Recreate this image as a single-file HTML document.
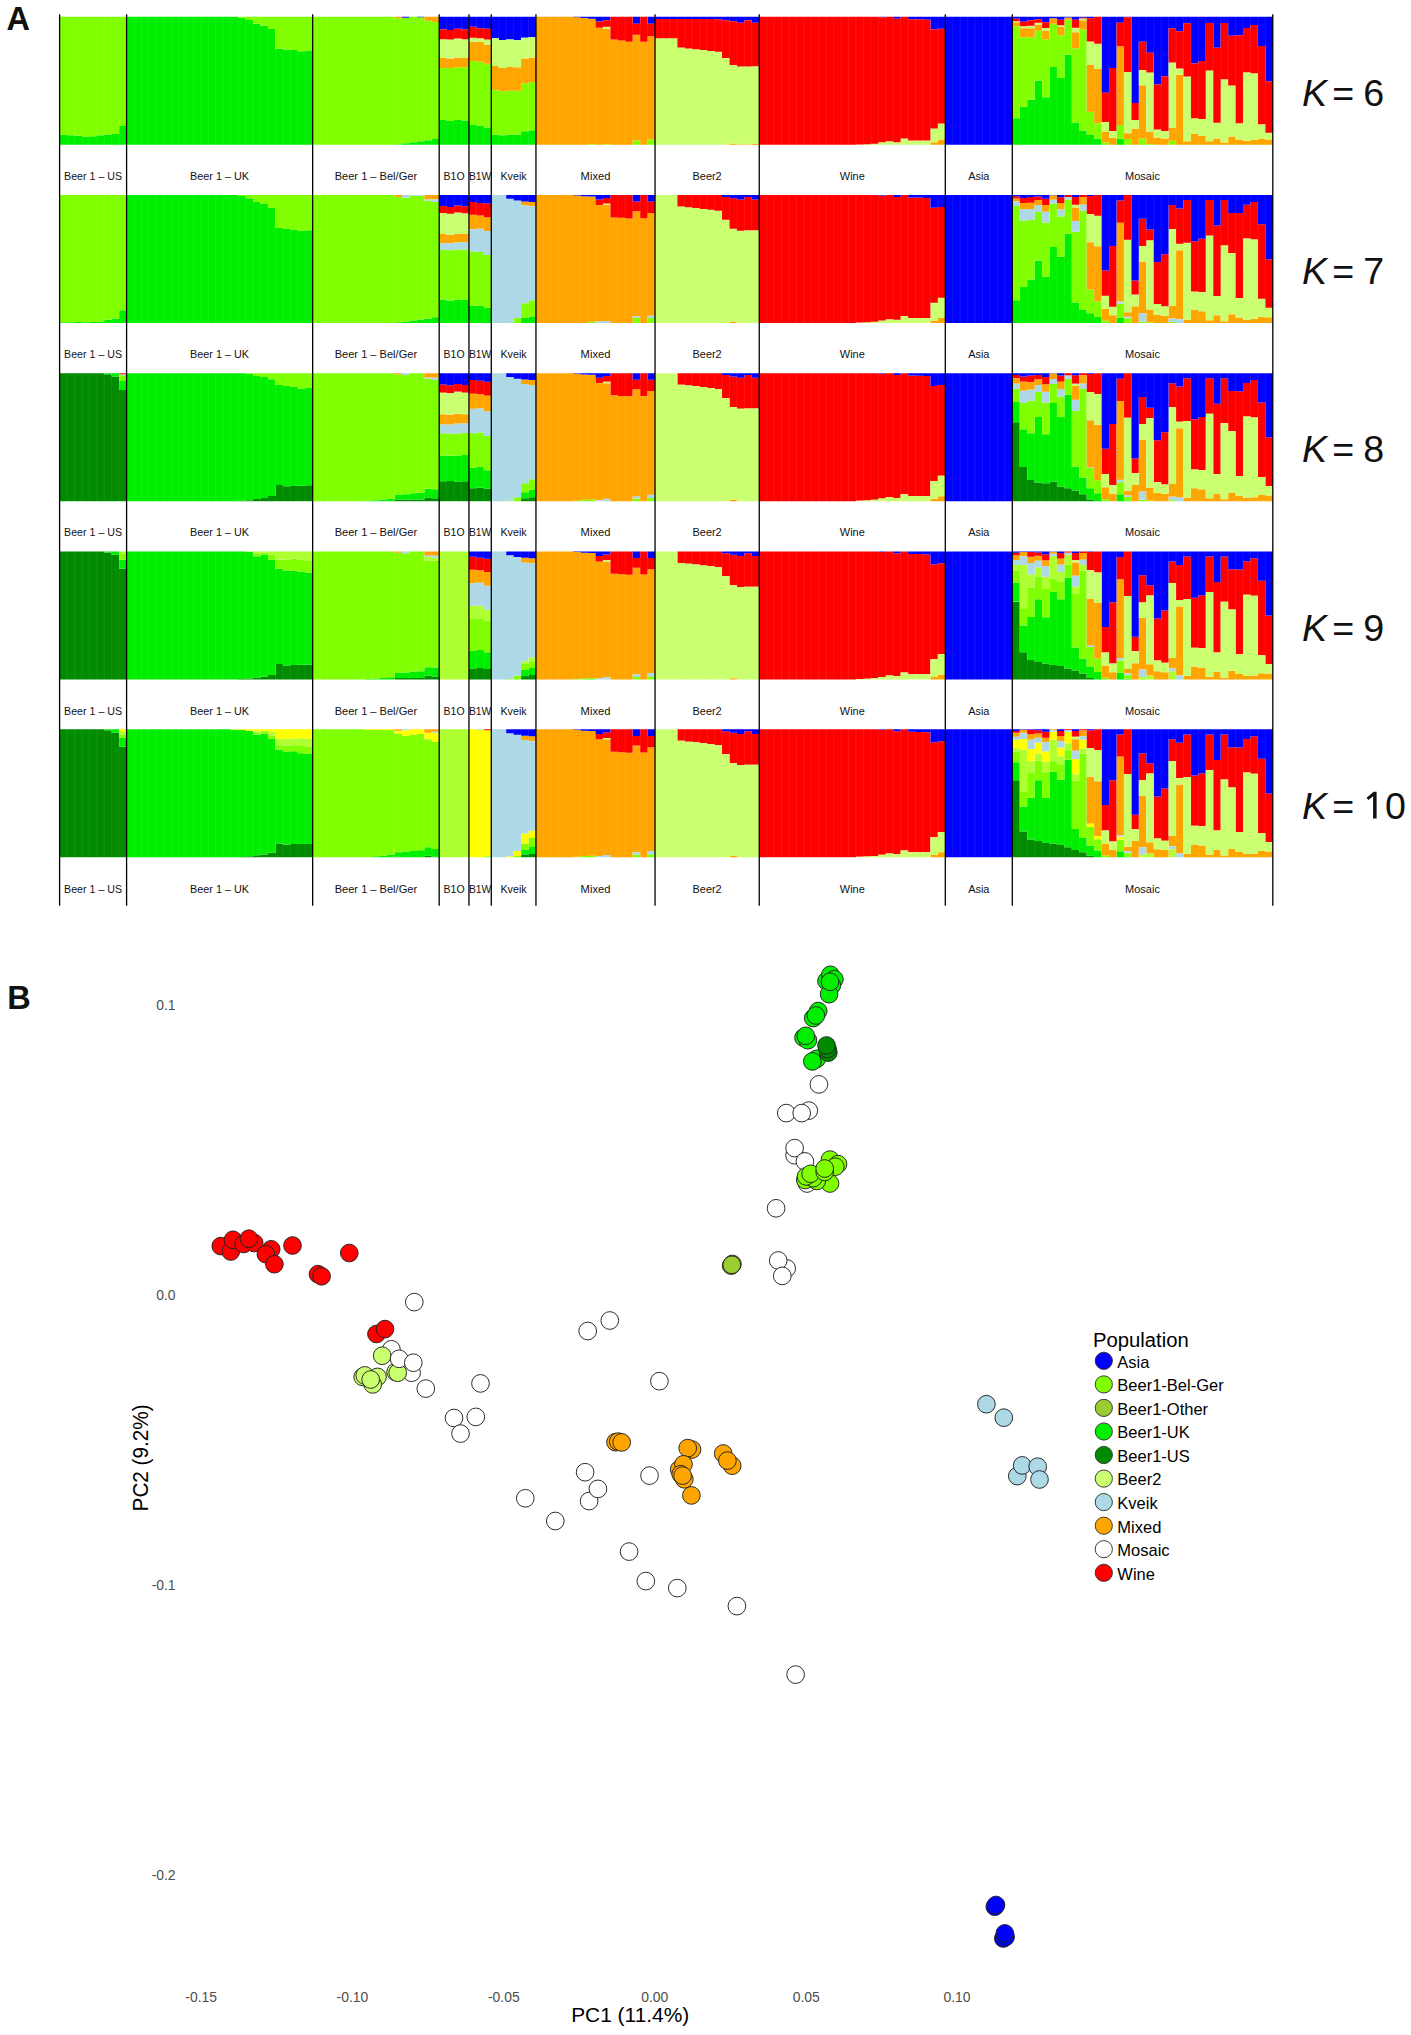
<!DOCTYPE html>
<html><head><meta charset="utf-8"><title>Figure</title>
<style>html,body{margin:0;padding:0;background:#fff}svg{display:block}</style>
</head><body>
<svg width="1411" height="2035" viewBox="0 0 1411 2035">
<rect width="1411" height="2035" fill="#fff"/>
<g id="bars">
<path fill="#00EE00" d="M59.60 134.82h7.44v9.98h-7.44zM67.04 135.20h7.44v9.60h-7.44zM74.49 135.84h7.44v8.96h-7.44zM81.93 136.48h7.44v8.32h-7.44zM89.37 136.22h7.44v8.58h-7.44zM96.81 135.33h7.44v9.47h-7.44zM104.26 134.56h7.44v10.24h-7.44zM111.70 133.92h7.44v10.88h-7.44zM119.14 125.98h7.44v18.82h-7.44zM126.59 16.80h7.44v128.00h-7.44zM134.03 16.80h7.44v128.00h-7.44zM141.47 16.80h7.44v128.00h-7.44zM148.92 16.80h7.44v128.00h-7.44zM156.36 16.80h7.44v128.00h-7.44zM163.80 16.80h7.44v128.00h-7.44zM171.24 16.80h7.44v128.00h-7.44zM178.69 16.80h7.44v128.00h-7.44zM186.13 16.80h7.44v128.00h-7.44zM193.57 16.80h7.44v128.00h-7.44zM201.02 16.80h7.44v128.00h-7.44zM208.46 16.80h7.44v128.00h-7.44zM215.90 16.80h7.44v128.00h-7.44zM223.34 16.80h7.44v128.00h-7.44zM230.79 16.80h7.44v128.00h-7.44zM238.23 17.82h7.44v126.98h-7.44zM245.67 20.00h7.44v124.80h-7.44zM253.12 23.71h7.44v121.09h-7.44zM260.56 25.76h7.44v119.04h-7.44zM268.00 29.09h7.44v115.71h-7.44zM275.45 48.80h7.44v96.00h-7.44zM282.89 49.57h7.44v95.23h-7.44zM290.33 50.08h7.44v94.72h-7.44zM297.77 51.36h7.44v93.44h-7.44zM305.22 51.10h7.44v93.70h-7.44zM394.53 144.16h7.44v0.64h-7.44zM401.98 143.26h7.44v1.54h-7.44zM409.42 142.24h7.44v2.56h-7.44zM416.86 141.22h7.44v3.58h-7.44zM424.30 140.32h7.44v4.48h-7.44zM431.75 139.04h7.44v5.76h-7.44zM439.19 119.97h7.44v24.83h-7.44zM446.63 120.99h7.44v23.81h-7.44zM454.08 119.97h7.44v24.83h-7.44zM461.52 120.48h7.44v24.32h-7.44zM468.96 124.96h7.44v19.84h-7.44zM476.40 125.60h7.44v19.20h-7.44zM483.85 127.39h7.44v17.41h-7.44zM491.29 134.82h7.44v9.98h-7.44zM498.73 135.33h7.44v9.47h-7.44zM506.18 134.82h7.44v9.98h-7.44zM513.62 134.82h7.44v9.98h-7.44zM521.06 131.36h7.44v13.44h-7.44zM528.51 130.34h7.44v14.46h-7.44zM1012.30 118.18h7.44v26.62h-7.44zM1019.74 106.78h7.44v38.02h-7.44zM1027.18 99.74h7.44v45.06h-7.44zM1034.63 80.80h7.44v64.00h-7.44zM1042.07 97.31h7.44v47.49h-7.44zM1049.51 66.98h7.44v77.82h-7.44zM1056.95 77.98h7.44v66.82h-7.44zM1064.40 54.82h7.44v89.98h-7.44zM1071.84 122.40h7.44v22.40h-7.44zM1079.28 130.59h7.44v14.21h-7.44zM1086.73 135.07h7.44v9.73h-7.44zM1094.17 138.78h7.44v6.02h-7.44zM1116.50 138.78h7.44v6.02h-7.44z"/>
<path fill="#7FFF00" d="M59.60 16.80h7.44v118.02h-7.44zM67.04 16.80h7.44v118.40h-7.44zM74.49 16.80h7.44v119.04h-7.44zM81.93 16.80h7.44v119.68h-7.44zM89.37 16.80h7.44v119.42h-7.44zM96.81 16.80h7.44v118.53h-7.44zM104.26 16.80h7.44v117.76h-7.44zM111.70 16.80h7.44v117.12h-7.44zM119.14 16.80h7.44v109.18h-7.44zM238.23 16.80h7.44v1.02h-7.44zM245.67 16.80h7.44v3.20h-7.44zM253.12 16.80h7.44v6.91h-7.44zM260.56 16.80h7.44v8.96h-7.44zM268.00 16.80h7.44v12.29h-7.44zM275.45 16.80h7.44v32.00h-7.44zM282.89 16.80h7.44v32.77h-7.44zM290.33 16.80h7.44v33.28h-7.44zM297.77 16.80h7.44v34.56h-7.44zM305.22 16.80h7.44v34.30h-7.44zM312.66 16.80h7.44v128.00h-7.44zM320.10 16.80h7.44v128.00h-7.44zM327.55 16.80h7.44v128.00h-7.44zM334.99 16.80h7.44v128.00h-7.44zM342.43 16.80h7.44v128.00h-7.44zM349.87 16.80h7.44v128.00h-7.44zM357.32 16.80h7.44v128.00h-7.44zM364.76 16.80h7.44v128.00h-7.44zM372.20 16.80h7.44v128.00h-7.44zM379.65 16.80h7.44v128.00h-7.44zM387.09 16.80h7.44v128.00h-7.44zM394.53 18.34h7.44v125.82h-7.44zM401.98 17.82h7.44v125.44h-7.44zM409.42 16.80h7.44v125.44h-7.44zM416.86 17.18h7.44v124.03h-7.44zM424.30 20.64h7.44v119.68h-7.44zM431.75 21.92h7.44v117.12h-7.44zM439.19 68.00h7.44v51.97h-7.44zM446.63 68.00h7.44v52.99h-7.44zM454.08 67.36h7.44v52.61h-7.44zM461.52 67.36h7.44v53.12h-7.44zM468.96 61.09h7.44v63.87h-7.44zM476.40 61.86h7.44v63.74h-7.44zM483.85 63.78h7.44v63.62h-7.44zM491.29 89.76h7.44v45.06h-7.44zM498.73 91.17h7.44v44.16h-7.44zM506.18 90.66h7.44v44.16h-7.44zM513.62 90.78h7.44v44.03h-7.44zM521.06 83.36h7.44v48.00h-7.44zM528.51 82.08h7.44v48.26h-7.44zM588.05 144.16h7.44v0.64h-7.44zM602.93 144.16h7.44v0.64h-7.44zM632.71 140.45h7.44v4.35h-7.44zM647.59 139.42h7.44v5.38h-7.44zM1012.30 26.27h7.44v91.90h-7.44zM1019.74 37.15h7.44v69.63h-7.44zM1027.18 37.15h7.44v62.59h-7.44zM1034.63 30.75h7.44v50.05h-7.44zM1042.07 39.20h7.44v58.11h-7.44zM1049.51 23.71h7.44v43.26h-7.44zM1056.95 35.23h7.44v42.75h-7.44zM1064.40 19.74h7.44v35.07h-7.44zM1071.84 48.16h7.44v74.24h-7.44zM1079.28 29.60h7.44v100.99h-7.44zM1086.73 111.71h7.44v23.36h-7.44zM1094.17 123.17h7.44v15.62h-7.44zM1101.61 142.50h7.44v2.30h-7.44zM1116.50 124.96h7.44v13.82h-7.44zM1123.94 139.04h7.44v5.76h-7.44zM1138.83 138.53h7.44v6.27h-7.44zM1146.27 144.03h7.44v0.77h-7.44zM1168.60 140.83h7.44v3.97h-7.44z"/>
<path fill="#FFA500" d="M394.53 16.80h7.44v1.54h-7.44zM424.30 16.80h7.44v3.84h-7.44zM431.75 16.80h7.44v5.12h-7.44zM439.19 58.02h7.44v9.98h-7.44zM446.63 58.53h7.44v9.47h-7.44zM454.08 57.50h7.44v9.86h-7.44zM461.52 58.02h7.44v9.34h-7.44zM468.96 41.63h7.44v19.46h-7.44zM476.40 42.02h7.44v19.84h-7.44zM483.85 44.58h7.44v19.20h-7.44zM491.29 65.95h7.44v23.81h-7.44zM498.73 68.00h7.44v23.17h-7.44zM506.18 66.98h7.44v23.68h-7.44zM513.62 67.36h7.44v23.42h-7.44zM521.06 58.53h7.44v24.83h-7.44zM528.51 57.50h7.44v24.58h-7.44zM535.95 16.80h7.44v128.00h-7.44zM543.39 16.80h7.44v128.00h-7.44zM550.83 16.80h7.44v128.00h-7.44zM558.28 16.80h7.44v128.00h-7.44zM565.72 16.80h7.44v128.00h-7.44zM573.16 17.31h7.44v127.49h-7.44zM580.61 18.08h7.44v126.72h-7.44zM588.05 18.72h7.44v125.44h-7.44zM595.49 27.68h7.44v117.12h-7.44zM602.93 28.70h7.44v115.46h-7.44zM610.38 39.58h7.44v105.22h-7.44zM617.82 40.61h7.44v104.19h-7.44zM625.26 41.63h7.44v103.17h-7.44zM632.71 34.72h7.44v105.73h-7.44zM640.15 41.63h7.44v103.17h-7.44zM647.59 36.26h7.44v103.17h-7.44zM722.02 144.42h7.44v0.38h-7.44zM729.47 143.52h7.44v1.28h-7.44zM736.91 144.16h7.44v0.64h-7.44zM744.35 144.16h7.44v0.64h-7.44zM751.79 144.03h7.44v0.77h-7.44zM930.42 142.37h7.44v2.43h-7.44zM937.87 139.81h7.44v4.99h-7.44zM1012.30 22.18h7.44v4.10h-7.44zM1019.74 28.19h7.44v8.96h-7.44zM1027.18 28.19h7.44v8.96h-7.44zM1034.63 24.74h7.44v6.02h-7.44zM1042.07 30.75h7.44v8.45h-7.44zM1049.51 18.34h7.44v5.38h-7.44zM1056.95 26.78h7.44v8.45h-7.44zM1064.40 17.57h7.44v2.18h-7.44zM1071.84 32.16h7.44v16.00h-7.44zM1079.28 20.26h7.44v9.34h-7.44zM1086.73 65.06h7.44v46.66h-7.44zM1094.17 69.02h7.44v54.14h-7.44zM1101.61 131.62h7.44v10.88h-7.44zM1109.06 138.02h7.44v6.78h-7.44zM1116.50 46.37h7.44v78.59h-7.44zM1123.94 133.28h7.44v5.76h-7.44zM1131.38 129.06h7.44v15.74h-7.44zM1138.83 85.15h7.44v53.38h-7.44zM1146.27 131.62h7.44v12.42h-7.44zM1153.71 137.50h7.44v7.30h-7.44zM1161.16 138.53h7.44v6.27h-7.44zM1168.60 127.90h7.44v12.93h-7.44zM1176.04 74.66h7.44v70.14h-7.44zM1183.48 141.22h7.44v3.58h-7.44zM1190.93 133.92h7.44v10.88h-7.44zM1198.37 135.84h7.44v8.96h-7.44zM1205.81 141.22h7.44v3.58h-7.44zM1213.26 138.53h7.44v6.27h-7.44zM1220.70 142.50h7.44v2.30h-7.44zM1228.14 136.61h7.44v8.19h-7.44zM1235.59 139.55h7.44v5.25h-7.44zM1243.03 140.83h7.44v3.97h-7.44zM1250.47 140.06h7.44v4.74h-7.44zM1257.91 139.04h7.44v5.76h-7.44zM1265.36 139.55h7.44v5.25h-7.44z"/>
<path fill="#0000FF" d="M401.98 16.80h7.44v1.02h-7.44zM416.86 16.80h7.44v0.38h-7.44zM439.19 16.80h7.44v12.54h-7.44zM446.63 16.80h7.44v13.31h-7.44zM454.08 16.80h7.44v11.90h-7.44zM461.52 16.80h7.44v12.80h-7.44zM468.96 16.80h7.44v9.98h-7.44zM476.40 16.80h7.44v11.52h-7.44zM483.85 16.80h7.44v11.90h-7.44zM491.29 16.80h7.44v21.38h-7.44zM498.73 16.80h7.44v23.17h-7.44zM506.18 16.80h7.44v22.78h-7.44zM513.62 16.80h7.44v23.42h-7.44zM521.06 16.80h7.44v20.86h-7.44zM528.51 16.80h7.44v20.48h-7.44zM573.16 16.80h7.44v0.51h-7.44zM580.61 16.80h7.44v1.28h-7.44zM588.05 16.80h7.44v1.92h-7.44zM595.49 16.80h7.44v4.61h-7.44zM602.93 16.80h7.44v3.33h-7.44zM632.71 16.80h7.44v6.91h-7.44zM647.59 16.80h7.44v6.91h-7.44zM655.04 16.80h7.44v2.18h-7.44zM662.48 16.80h7.44v2.18h-7.44zM669.92 16.80h7.44v2.18h-7.44zM677.36 16.80h7.44v2.18h-7.44zM684.81 16.80h7.44v2.18h-7.44zM692.25 16.80h7.44v2.18h-7.44zM699.69 16.80h7.44v2.18h-7.44zM707.14 16.80h7.44v2.18h-7.44zM714.58 16.80h7.44v2.56h-7.44zM722.02 16.80h7.44v3.33h-7.44zM729.47 16.80h7.44v4.35h-7.44zM736.91 16.80h7.44v6.02h-7.44zM744.35 16.80h7.44v3.33h-7.44zM751.79 16.80h7.44v6.02h-7.44zM878.32 16.80h7.44v0.51h-7.44zM893.21 16.80h7.44v1.92h-7.44zM908.10 16.80h7.44v2.43h-7.44zM915.54 16.80h7.44v2.56h-7.44zM922.98 16.80h7.44v2.94h-7.44zM930.42 16.80h7.44v12.80h-7.44zM937.87 16.80h7.44v11.90h-7.44zM945.31 16.80h7.44v128.00h-7.44zM952.75 16.80h7.44v128.00h-7.44zM960.20 16.80h7.44v128.00h-7.44zM967.64 16.80h7.44v128.00h-7.44zM975.08 16.80h7.44v128.00h-7.44zM982.53 16.80h7.44v128.00h-7.44zM989.97 16.80h7.44v128.00h-7.44zM997.41 16.80h7.44v128.00h-7.44zM1004.85 16.80h7.44v128.00h-7.44zM1012.30 16.80h7.44v1.92h-7.44zM1019.74 16.80h7.44v4.99h-7.44zM1027.18 16.80h7.44v3.46h-7.44zM1034.63 16.80h7.44v2.56h-7.44zM1042.07 16.80h7.44v5.50h-7.44zM1049.51 16.80h7.44v1.54h-7.44zM1056.95 16.80h7.44v2.94h-7.44zM1064.40 16.80h7.44v0.77h-7.44zM1071.84 16.80h7.44v2.94h-7.44zM1079.28 16.80h7.44v0.90h-7.44zM1086.73 16.80h7.44v1.54h-7.44zM1101.61 16.80h7.44v76.03h-7.44zM1109.06 16.80h7.44v51.20h-7.44zM1116.50 16.80h7.44v6.02h-7.44zM1123.94 16.80h7.44v0.51h-7.44zM1131.38 16.80h7.44v86.27h-7.44zM1138.83 16.80h7.44v24.83h-7.44zM1146.27 16.80h7.44v35.84h-7.44zM1153.71 16.80h7.44v67.58h-7.44zM1161.16 16.80h7.44v59.39h-7.44zM1168.60 16.80h7.44v11.39h-7.44zM1176.04 16.80h7.44v14.46h-7.44zM1183.48 16.80h7.44v6.40h-7.44zM1190.93 16.80h7.44v46.72h-7.44zM1198.37 16.80h7.44v44.29h-7.44zM1205.81 16.80h7.44v6.14h-7.44zM1213.26 16.80h7.44v30.98h-7.44zM1220.70 16.80h7.44v6.14h-7.44zM1228.14 16.80h7.44v19.07h-7.44zM1235.59 16.80h7.44v18.43h-7.44zM1243.03 16.80h7.44v11.14h-7.44zM1250.47 16.80h7.44v8.19h-7.44zM1257.91 16.80h7.44v29.31h-7.44zM1265.36 16.80h7.44v64.38h-7.44z"/>
<path fill="#CAFF70" d="M439.19 39.20h7.44v18.82h-7.44zM446.63 39.58h7.44v18.94h-7.44zM454.08 38.56h7.44v18.94h-7.44zM461.52 39.20h7.44v18.82h-7.44zM468.96 37.66h7.44v3.97h-7.44zM476.40 38.18h7.44v3.84h-7.44zM483.85 39.58h7.44v4.99h-7.44zM491.29 38.18h7.44v27.78h-7.44zM498.73 39.97h7.44v28.03h-7.44zM506.18 39.58h7.44v27.39h-7.44zM513.62 40.22h7.44v27.14h-7.44zM521.06 37.66h7.44v20.86h-7.44zM528.51 37.28h7.44v20.22h-7.44zM602.93 26.78h7.44v1.92h-7.44zM655.04 38.18h7.44v106.62h-7.44zM662.48 38.18h7.44v106.62h-7.44zM669.92 38.18h7.44v106.62h-7.44zM677.36 47.52h7.44v97.28h-7.44zM684.81 48.54h7.44v96.26h-7.44zM692.25 49.18h7.44v95.62h-7.44zM699.69 50.08h7.44v94.72h-7.44zM707.14 50.98h7.44v93.82h-7.44zM714.58 51.87h7.44v92.93h-7.44zM722.02 58.02h7.44v86.40h-7.44zM729.47 65.06h7.44v78.46h-7.44zM736.91 66.46h7.44v77.70h-7.44zM744.35 66.46h7.44v77.70h-7.44zM751.79 66.21h7.44v77.82h-7.44zM856.00 144.42h7.44v0.38h-7.44zM863.44 144.16h7.44v0.64h-7.44zM870.88 143.78h7.44v1.02h-7.44zM878.32 142.37h7.44v2.43h-7.44zM885.77 141.22h7.44v3.58h-7.44zM893.21 142.37h7.44v2.43h-7.44zM900.65 138.40h7.44v6.40h-7.44zM908.10 140.45h7.44v4.35h-7.44zM915.54 140.45h7.44v4.35h-7.44zM922.98 140.45h7.44v4.35h-7.44zM930.42 128.54h7.44v13.82h-7.44zM937.87 123.42h7.44v16.38h-7.44zM1012.30 21.28h7.44v0.90h-7.44zM1019.74 26.27h7.44v1.92h-7.44zM1027.18 25.76h7.44v2.43h-7.44zM1034.63 22.82h7.44v1.92h-7.44zM1042.07 27.94h7.44v2.82h-7.44zM1056.95 25.25h7.44v1.54h-7.44zM1071.84 27.68h7.44v4.48h-7.44zM1079.28 18.59h7.44v1.66h-7.44zM1086.73 41.50h7.44v23.55h-7.44zM1094.17 43.68h7.44v25.34h-7.44zM1101.61 121.89h7.44v9.73h-7.44zM1109.06 131.10h7.44v6.91h-7.44zM1123.94 71.97h7.44v61.31h-7.44zM1131.38 119.97h7.44v9.09h-7.44zM1138.83 69.92h7.44v15.23h-7.44zM1146.27 72.61h7.44v59.01h-7.44zM1153.71 129.57h7.44v7.94h-7.44zM1161.16 131.10h7.44v7.42h-7.44zM1168.60 62.50h7.44v65.41h-7.44zM1176.04 68.51h7.44v6.14h-7.44zM1183.48 76.58h7.44v64.64h-7.44zM1190.93 118.18h7.44v15.74h-7.44zM1198.37 118.94h7.44v16.90h-7.44zM1205.81 70.43h7.44v70.78h-7.44zM1213.26 122.66h7.44v15.87h-7.44zM1220.70 79.14h7.44v63.36h-7.44zM1228.14 85.54h7.44v51.07h-7.44zM1235.59 123.17h7.44v16.38h-7.44zM1243.03 72.22h7.44v68.61h-7.44zM1250.47 73.25h7.44v66.82h-7.44zM1257.91 124.19h7.44v14.85h-7.44zM1265.36 132.64h7.44v6.91h-7.44z"/>
<path fill="#FF0000" d="M439.19 29.34h7.44v9.86h-7.44zM446.63 30.11h7.44v9.47h-7.44zM454.08 28.70h7.44v9.86h-7.44zM461.52 29.60h7.44v9.60h-7.44zM468.96 26.78h7.44v10.88h-7.44zM476.40 28.32h7.44v9.86h-7.44zM483.85 28.70h7.44v10.88h-7.44zM595.49 21.41h7.44v6.27h-7.44zM602.93 20.13h7.44v6.66h-7.44zM610.38 16.80h7.44v22.78h-7.44zM617.82 16.80h7.44v23.81h-7.44zM625.26 16.80h7.44v24.83h-7.44zM632.71 23.71h7.44v11.01h-7.44zM640.15 16.80h7.44v24.83h-7.44zM647.59 23.71h7.44v12.54h-7.44zM655.04 18.98h7.44v19.20h-7.44zM662.48 18.98h7.44v19.20h-7.44zM669.92 18.98h7.44v19.20h-7.44zM677.36 18.98h7.44v28.54h-7.44zM684.81 18.98h7.44v29.57h-7.44zM692.25 18.98h7.44v30.21h-7.44zM699.69 18.98h7.44v31.10h-7.44zM707.14 18.98h7.44v32.00h-7.44zM714.58 19.36h7.44v32.51h-7.44zM722.02 20.13h7.44v37.89h-7.44zM729.47 21.15h7.44v43.90h-7.44zM736.91 22.82h7.44v43.65h-7.44zM744.35 20.13h7.44v46.34h-7.44zM751.79 22.82h7.44v43.39h-7.44zM759.24 16.80h7.44v128.00h-7.44zM766.68 16.80h7.44v128.00h-7.44zM774.12 16.80h7.44v128.00h-7.44zM781.57 16.80h7.44v128.00h-7.44zM789.01 16.80h7.44v128.00h-7.44zM796.45 16.80h7.44v128.00h-7.44zM803.89 16.80h7.44v128.00h-7.44zM811.34 16.80h7.44v128.00h-7.44zM818.78 16.80h7.44v128.00h-7.44zM826.22 16.80h7.44v128.00h-7.44zM833.67 16.80h7.44v128.00h-7.44zM841.11 16.80h7.44v128.00h-7.44zM848.55 16.80h7.44v128.00h-7.44zM856.00 16.80h7.44v127.62h-7.44zM863.44 16.80h7.44v127.36h-7.44zM870.88 16.80h7.44v126.98h-7.44zM878.32 17.31h7.44v125.06h-7.44zM885.77 16.80h7.44v124.42h-7.44zM893.21 18.72h7.44v123.65h-7.44zM900.65 16.80h7.44v121.60h-7.44zM908.10 19.23h7.44v121.22h-7.44zM915.54 19.36h7.44v121.09h-7.44zM922.98 19.74h7.44v120.70h-7.44zM930.42 29.60h7.44v98.94h-7.44zM937.87 28.70h7.44v94.72h-7.44zM1012.30 18.72h7.44v2.56h-7.44zM1019.74 21.79h7.44v4.48h-7.44zM1027.18 20.26h7.44v5.50h-7.44zM1034.63 19.36h7.44v3.46h-7.44zM1042.07 22.30h7.44v5.63h-7.44zM1056.95 19.74h7.44v5.50h-7.44zM1071.84 19.74h7.44v7.94h-7.44zM1079.28 17.70h7.44v0.90h-7.44zM1086.73 18.34h7.44v23.17h-7.44zM1094.17 16.80h7.44v26.88h-7.44zM1101.61 92.83h7.44v29.06h-7.44zM1109.06 68.00h7.44v63.10h-7.44zM1116.50 22.82h7.44v23.55h-7.44zM1123.94 17.31h7.44v54.66h-7.44zM1131.38 103.07h7.44v16.90h-7.44zM1138.83 41.63h7.44v28.29h-7.44zM1146.27 52.64h7.44v19.97h-7.44zM1153.71 84.38h7.44v45.18h-7.44zM1161.16 76.19h7.44v54.91h-7.44zM1168.60 28.19h7.44v34.30h-7.44zM1176.04 31.26h7.44v37.25h-7.44zM1183.48 23.20h7.44v53.38h-7.44zM1190.93 63.52h7.44v54.66h-7.44zM1198.37 61.09h7.44v57.86h-7.44zM1205.81 22.94h7.44v47.49h-7.44zM1213.26 47.78h7.44v74.88h-7.44zM1220.70 22.94h7.44v56.19h-7.44zM1228.14 35.87h7.44v49.66h-7.44zM1235.59 35.23h7.44v87.94h-7.44zM1243.03 27.94h7.44v44.29h-7.44zM1250.47 24.99h7.44v48.26h-7.44zM1257.91 46.11h7.44v78.08h-7.44zM1265.36 81.18h7.44v51.46h-7.44z"/>
<path fill="#00EE00" d="M59.60 322.36h7.44v0.64h-7.44zM67.04 322.23h7.44v0.77h-7.44zM74.49 321.98h7.44v1.02h-7.44zM81.93 322.23h7.44v0.77h-7.44zM89.37 321.98h7.44v1.02h-7.44zM96.81 321.46h7.44v1.54h-7.44zM104.26 319.80h7.44v3.20h-7.44zM111.70 318.52h7.44v4.48h-7.44zM119.14 310.20h7.44v12.80h-7.44zM126.59 195.00h7.44v128.00h-7.44zM134.03 195.00h7.44v128.00h-7.44zM141.47 195.00h7.44v128.00h-7.44zM148.92 195.00h7.44v128.00h-7.44zM156.36 195.00h7.44v128.00h-7.44zM163.80 195.00h7.44v128.00h-7.44zM171.24 195.00h7.44v128.00h-7.44zM178.69 195.00h7.44v128.00h-7.44zM186.13 195.00h7.44v128.00h-7.44zM193.57 195.00h7.44v128.00h-7.44zM201.02 195.00h7.44v128.00h-7.44zM208.46 195.00h7.44v128.00h-7.44zM215.90 195.00h7.44v128.00h-7.44zM223.34 195.00h7.44v128.00h-7.44zM230.79 195.00h7.44v128.00h-7.44zM238.23 196.02h7.44v126.98h-7.44zM245.67 198.20h7.44v124.80h-7.44zM253.12 201.91h7.44v121.09h-7.44zM260.56 203.96h7.44v119.04h-7.44zM268.00 207.80h7.44v115.20h-7.44zM275.45 227.90h7.44v95.10h-7.44zM282.89 228.92h7.44v94.08h-7.44zM290.33 229.56h7.44v93.44h-7.44zM297.77 230.84h7.44v92.16h-7.44zM305.22 230.20h7.44v92.80h-7.44zM394.53 322.36h7.44v0.64h-7.44zM401.98 321.46h7.44v1.54h-7.44zM409.42 320.44h7.44v2.56h-7.44zM416.86 319.42h7.44v3.58h-7.44zM424.30 318.52h7.44v4.48h-7.44zM431.75 317.24h7.44v5.76h-7.44zM439.19 299.58h7.44v23.42h-7.44zM446.63 300.60h7.44v22.40h-7.44zM454.08 299.58h7.44v23.42h-7.44zM461.52 299.83h7.44v23.17h-7.44zM468.96 305.72h7.44v17.28h-7.44zM476.40 305.59h7.44v17.41h-7.44zM483.85 307.64h7.44v15.36h-7.44zM521.06 318.01h7.44v4.99h-7.44zM528.51 316.47h7.44v6.53h-7.44zM1012.30 300.34h7.44v22.66h-7.44zM1019.74 286.90h7.44v36.10h-7.44zM1027.18 279.48h7.44v43.52h-7.44zM1034.63 260.41h7.44v62.59h-7.44zM1042.07 276.54h7.44v46.46h-7.44zM1049.51 246.97h7.44v76.03h-7.44zM1056.95 256.82h7.44v66.18h-7.44zM1064.40 233.78h7.44v89.22h-7.44zM1071.84 302.39h7.44v20.61h-7.44zM1079.28 310.07h7.44v12.93h-7.44zM1086.73 313.27h7.44v9.73h-7.44zM1094.17 316.98h7.44v6.02h-7.44zM1116.50 317.75h7.44v5.25h-7.44z"/>
<path fill="#7FFF00" d="M59.60 195.00h7.44v127.36h-7.44zM67.04 195.00h7.44v127.23h-7.44zM74.49 195.00h7.44v126.98h-7.44zM81.93 195.00h7.44v127.23h-7.44zM89.37 195.00h7.44v126.98h-7.44zM96.81 195.00h7.44v126.46h-7.44zM104.26 195.00h7.44v124.80h-7.44zM111.70 195.00h7.44v123.52h-7.44zM119.14 195.00h7.44v115.20h-7.44zM238.23 195.00h7.44v1.02h-7.44zM245.67 195.00h7.44v3.20h-7.44zM253.12 195.00h7.44v6.91h-7.44zM260.56 195.00h7.44v8.96h-7.44zM268.00 195.00h7.44v12.80h-7.44zM275.45 195.00h7.44v32.90h-7.44zM282.89 195.00h7.44v33.92h-7.44zM290.33 195.00h7.44v34.56h-7.44zM297.77 195.00h7.44v35.84h-7.44zM305.22 195.00h7.44v35.20h-7.44zM312.66 195.00h7.44v128.00h-7.44zM320.10 195.00h7.44v128.00h-7.44zM327.55 195.00h7.44v128.00h-7.44zM334.99 195.00h7.44v128.00h-7.44zM342.43 195.00h7.44v128.00h-7.44zM349.87 195.00h7.44v128.00h-7.44zM357.32 195.00h7.44v128.00h-7.44zM364.76 195.00h7.44v128.00h-7.44zM372.20 195.00h7.44v128.00h-7.44zM379.65 195.00h7.44v128.00h-7.44zM387.09 195.00h7.44v128.00h-7.44zM394.53 196.92h7.44v125.44h-7.44zM401.98 197.56h7.44v123.90h-7.44zM409.42 195.64h7.44v124.80h-7.44zM416.86 195.64h7.44v123.78h-7.44zM424.30 200.76h7.44v117.76h-7.44zM431.75 202.04h7.44v115.20h-7.44zM439.19 250.04h7.44v49.54h-7.44zM446.63 250.17h7.44v50.43h-7.44zM454.08 249.53h7.44v50.05h-7.44zM461.52 249.53h7.44v50.30h-7.44zM468.96 251.58h7.44v54.14h-7.44zM476.40 251.96h7.44v53.63h-7.44zM483.85 254.90h7.44v52.74h-7.44zM513.62 318.01h7.44v4.99h-7.44zM521.06 303.16h7.44v14.85h-7.44zM528.51 300.22h7.44v16.26h-7.44zM588.05 321.72h7.44v1.28h-7.44zM632.71 318.01h7.44v4.99h-7.44zM647.59 318.01h7.44v4.99h-7.44zM1012.30 205.88h7.44v94.46h-7.44zM1019.74 220.60h7.44v66.30h-7.44zM1027.18 220.09h7.44v59.39h-7.44zM1034.63 211.90h7.44v48.51h-7.44zM1042.07 222.39h7.44v54.14h-7.44zM1049.51 203.70h7.44v43.26h-7.44zM1056.95 216.38h7.44v40.45h-7.44zM1064.40 199.48h7.44v34.30h-7.44zM1071.84 231.74h7.44v70.66h-7.44zM1079.28 210.74h7.44v99.33h-7.44zM1086.73 289.46h7.44v23.81h-7.44zM1094.17 301.37h7.44v15.62h-7.44zM1101.61 320.70h7.44v2.30h-7.44zM1116.50 303.80h7.44v13.95h-7.44zM1123.94 318.26h7.44v4.74h-7.44zM1138.83 321.72h7.44v1.28h-7.44zM1146.27 322.36h7.44v0.64h-7.44zM1168.60 321.98h7.44v1.02h-7.44z"/>
<path fill="#FFA500" d="M394.53 195.00h7.44v1.92h-7.44zM424.30 195.00h7.44v4.48h-7.44zM431.75 195.00h7.44v4.48h-7.44zM439.19 234.04h7.44v9.22h-7.44zM446.63 234.68h7.44v8.58h-7.44zM454.08 233.66h7.44v8.96h-7.44zM461.52 234.04h7.44v8.19h-7.44zM468.96 214.84h7.44v14.34h-7.44zM476.40 215.48h7.44v13.31h-7.44zM483.85 217.27h7.44v13.82h-7.44zM521.06 201.53h7.44v3.97h-7.44zM528.51 201.91h7.44v4.35h-7.44zM535.95 195.00h7.44v128.00h-7.44zM543.39 195.00h7.44v128.00h-7.44zM550.83 195.00h7.44v128.00h-7.44zM558.28 195.00h7.44v128.00h-7.44zM565.72 195.00h7.44v128.00h-7.44zM573.16 195.51h7.44v127.49h-7.44zM580.61 196.28h7.44v126.72h-7.44zM588.05 196.54h7.44v125.18h-7.44zM595.49 204.98h7.44v116.48h-7.44zM602.93 204.98h7.44v116.10h-7.44zM610.38 217.40h7.44v105.60h-7.44zM617.82 217.78h7.44v105.22h-7.44zM625.26 218.42h7.44v104.58h-7.44zM632.71 211.26h7.44v105.34h-7.44zM640.15 218.17h7.44v104.83h-7.44zM647.59 212.92h7.44v102.78h-7.44zM729.47 321.72h7.44v1.28h-7.44zM930.42 320.57h7.44v2.43h-7.44zM937.87 318.01h7.44v4.99h-7.44zM1012.30 198.46h7.44v2.94h-7.44zM1019.74 202.94h7.44v6.53h-7.44zM1027.18 202.81h7.44v6.27h-7.44zM1034.63 200.12h7.44v4.99h-7.44zM1042.07 205.11h7.44v6.53h-7.44zM1049.51 195.26h7.44v4.48h-7.44zM1056.95 202.94h7.44v6.53h-7.44zM1071.84 207.42h7.44v13.57h-7.44zM1079.28 197.05h7.44v7.68h-7.44zM1086.73 242.23h7.44v47.23h-7.44zM1094.17 246.20h7.44v55.17h-7.44zM1101.61 308.79h7.44v11.90h-7.44zM1109.06 315.32h7.44v7.68h-7.44zM1116.50 222.78h7.44v78.72h-7.44zM1123.94 312.25h7.44v4.48h-7.44zM1131.38 306.36h7.44v16.64h-7.44zM1138.83 261.43h7.44v51.58h-7.44zM1146.27 309.43h7.44v12.93h-7.44zM1153.71 314.81h7.44v8.19h-7.44zM1161.16 315.70h7.44v7.30h-7.44zM1168.60 305.85h7.44v12.54h-7.44zM1176.04 250.17h7.44v68.99h-7.44zM1183.48 319.42h7.44v3.58h-7.44zM1190.93 310.07h7.44v12.93h-7.44zM1198.37 311.22h7.44v11.78h-7.44zM1205.81 320.18h7.44v2.82h-7.44zM1213.26 315.32h7.44v7.68h-7.44zM1220.70 321.21h7.44v1.79h-7.44zM1228.14 314.30h7.44v8.70h-7.44zM1235.59 317.50h7.44v5.50h-7.44zM1243.03 319.67h7.44v3.33h-7.44zM1250.47 319.03h7.44v3.97h-7.44zM1257.91 316.73h7.44v6.27h-7.44zM1265.36 317.24h7.44v5.76h-7.44z"/>
<path fill="#ADD8E6" d="M401.98 195.00h7.44v2.56h-7.44zM409.42 195.00h7.44v0.64h-7.44zM416.86 195.00h7.44v0.64h-7.44zM424.30 199.48h7.44v1.28h-7.44zM431.75 199.48h7.44v2.56h-7.44zM439.19 243.26h7.44v6.78h-7.44zM446.63 243.26h7.44v6.91h-7.44zM454.08 242.62h7.44v6.91h-7.44zM461.52 242.23h7.44v7.30h-7.44zM468.96 229.18h7.44v22.40h-7.44zM476.40 228.79h7.44v23.17h-7.44zM483.85 231.10h7.44v23.81h-7.44zM491.29 195.00h7.44v128.00h-7.44zM498.73 195.00h7.44v128.00h-7.44zM506.18 198.84h7.44v124.16h-7.44zM513.62 200.50h7.44v117.50h-7.44zM521.06 205.50h7.44v97.66h-7.44zM528.51 206.26h7.44v93.95h-7.44zM595.49 321.46h7.44v1.54h-7.44zM602.93 321.08h7.44v1.92h-7.44zM632.71 316.60h7.44v1.41h-7.44zM647.59 315.70h7.44v2.30h-7.44zM1012.30 201.40h7.44v4.48h-7.44zM1019.74 209.46h7.44v11.14h-7.44zM1027.18 209.08h7.44v11.01h-7.44zM1034.63 205.11h7.44v6.78h-7.44zM1042.07 211.64h7.44v10.75h-7.44zM1049.51 199.74h7.44v3.97h-7.44zM1056.95 209.46h7.44v6.91h-7.44zM1064.40 197.05h7.44v2.43h-7.44zM1071.84 220.98h7.44v10.75h-7.44zM1079.28 204.73h7.44v6.02h-7.44zM1116.50 301.50h7.44v2.30h-7.44zM1123.94 316.73h7.44v1.54h-7.44zM1138.83 313.02h7.44v8.70h-7.44zM1168.60 318.39h7.44v3.58h-7.44zM1176.04 319.16h7.44v3.84h-7.44z"/>
<path fill="#CAFF70" d="M439.19 212.92h7.44v21.12h-7.44zM446.63 213.82h7.44v20.86h-7.44zM454.08 212.41h7.44v21.25h-7.44zM461.52 213.30h7.44v20.74h-7.44zM602.93 203.58h7.44v1.41h-7.44zM655.04 195.00h7.44v128.00h-7.44zM662.48 195.00h7.44v128.00h-7.44zM669.92 195.00h7.44v128.00h-7.44zM677.36 206.52h7.44v116.48h-7.44zM684.81 207.29h7.44v115.71h-7.44zM692.25 207.93h7.44v115.07h-7.44zM699.69 208.95h7.44v114.05h-7.44zM707.14 209.85h7.44v113.15h-7.44zM714.58 210.87h7.44v112.13h-7.44zM722.02 219.83h7.44v103.17h-7.44zM729.47 228.79h7.44v92.93h-7.44zM736.91 230.71h7.44v92.29h-7.44zM744.35 230.33h7.44v92.67h-7.44zM751.79 230.33h7.44v92.67h-7.44zM856.00 322.49h7.44v0.51h-7.44zM863.44 322.23h7.44v0.77h-7.44zM870.88 321.72h7.44v1.28h-7.44zM878.32 320.44h7.44v2.56h-7.44zM885.77 319.16h7.44v3.84h-7.44zM893.21 319.80h7.44v3.20h-7.44zM900.65 316.09h7.44v6.91h-7.44zM908.10 317.88h7.44v5.12h-7.44zM915.54 317.88h7.44v5.12h-7.44zM922.98 317.88h7.44v5.12h-7.44zM930.42 302.78h7.44v17.79h-7.44zM937.87 297.66h7.44v20.35h-7.44zM1071.84 204.73h7.44v2.69h-7.44zM1086.73 214.07h7.44v28.16h-7.44zM1094.17 215.86h7.44v30.34h-7.44zM1101.61 295.86h7.44v12.93h-7.44zM1109.06 306.74h7.44v8.58h-7.44zM1123.94 239.67h7.44v72.58h-7.44zM1131.38 294.58h7.44v11.78h-7.44zM1138.83 245.94h7.44v15.49h-7.44zM1146.27 240.18h7.44v69.25h-7.44zM1153.71 304.06h7.44v10.75h-7.44zM1161.16 306.36h7.44v9.34h-7.44zM1168.60 229.05h7.44v76.80h-7.44zM1176.04 243.64h7.44v6.53h-7.44zM1183.48 242.74h7.44v76.67h-7.44zM1190.93 291.38h7.44v18.69h-7.44zM1198.37 291.90h7.44v19.33h-7.44zM1205.81 235.58h7.44v84.61h-7.44zM1213.26 296.12h7.44v19.20h-7.44zM1220.70 245.18h7.44v76.03h-7.44zM1228.14 253.11h7.44v61.18h-7.44zM1235.59 297.91h7.44v19.58h-7.44zM1243.03 238.26h7.44v81.41h-7.44zM1250.47 239.29h7.44v79.74h-7.44zM1257.91 298.81h7.44v17.92h-7.44zM1265.36 307.77h7.44v9.47h-7.44z"/>
<path fill="#FF0000" d="M439.19 205.88h7.44v7.04h-7.44zM446.63 206.90h7.44v6.91h-7.44zM454.08 205.50h7.44v6.91h-7.44zM461.52 206.26h7.44v7.04h-7.44zM468.96 201.91h7.44v12.93h-7.44zM476.40 202.94h7.44v12.54h-7.44zM483.85 203.58h7.44v13.70h-7.44zM595.49 199.61h7.44v5.38h-7.44zM602.93 197.94h7.44v5.63h-7.44zM610.38 195.00h7.44v22.40h-7.44zM617.82 195.00h7.44v22.78h-7.44zM625.26 195.00h7.44v23.42h-7.44zM632.71 201.53h7.44v9.73h-7.44zM640.15 195.00h7.44v23.17h-7.44zM647.59 201.53h7.44v11.39h-7.44zM677.36 195.00h7.44v11.52h-7.44zM684.81 195.00h7.44v12.29h-7.44zM692.25 195.00h7.44v12.93h-7.44zM699.69 195.00h7.44v13.95h-7.44zM707.14 195.00h7.44v14.85h-7.44zM714.58 195.00h7.44v15.87h-7.44zM722.02 196.92h7.44v22.91h-7.44zM729.47 198.33h7.44v30.46h-7.44zM736.91 199.61h7.44v31.10h-7.44zM744.35 196.92h7.44v33.41h-7.44zM751.79 199.61h7.44v30.72h-7.44zM759.24 195.00h7.44v128.00h-7.44zM766.68 195.00h7.44v128.00h-7.44zM774.12 195.00h7.44v128.00h-7.44zM781.57 195.00h7.44v128.00h-7.44zM789.01 195.00h7.44v128.00h-7.44zM796.45 195.00h7.44v128.00h-7.44zM803.89 195.00h7.44v128.00h-7.44zM811.34 195.00h7.44v128.00h-7.44zM818.78 195.00h7.44v128.00h-7.44zM826.22 195.00h7.44v128.00h-7.44zM833.67 195.00h7.44v128.00h-7.44zM841.11 195.00h7.44v128.00h-7.44zM848.55 195.00h7.44v128.00h-7.44zM856.00 195.00h7.44v127.49h-7.44zM863.44 195.00h7.44v127.23h-7.44zM870.88 195.00h7.44v126.72h-7.44zM878.32 195.51h7.44v124.93h-7.44zM885.77 195.00h7.44v124.16h-7.44zM893.21 196.92h7.44v122.88h-7.44zM900.65 195.00h7.44v121.09h-7.44zM908.10 197.43h7.44v120.45h-7.44zM915.54 197.56h7.44v120.32h-7.44zM922.98 197.94h7.44v119.94h-7.44zM930.42 207.80h7.44v94.98h-7.44zM937.87 206.90h7.44v90.75h-7.44zM1012.30 196.28h7.44v2.18h-7.44zM1019.74 197.94h7.44v4.99h-7.44zM1027.18 197.05h7.44v5.76h-7.44zM1034.63 196.54h7.44v3.58h-7.44zM1042.07 198.84h7.44v6.27h-7.44zM1056.95 197.18h7.44v5.76h-7.44zM1064.40 195.00h7.44v2.05h-7.44zM1071.84 197.05h7.44v7.68h-7.44zM1079.28 195.00h7.44v2.05h-7.44zM1086.73 196.02h7.44v18.05h-7.44zM1094.17 195.00h7.44v20.86h-7.44zM1101.61 270.52h7.44v25.34h-7.44zM1109.06 245.94h7.44v60.80h-7.44zM1116.50 200.50h7.44v22.27h-7.44zM1123.94 195.00h7.44v44.67h-7.44zM1131.38 280.50h7.44v14.08h-7.44zM1138.83 218.81h7.44v27.14h-7.44zM1146.27 229.56h7.44v10.62h-7.44zM1153.71 262.07h7.44v41.98h-7.44zM1161.16 254.14h7.44v52.22h-7.44zM1168.60 204.98h7.44v24.06h-7.44zM1176.04 208.44h7.44v35.20h-7.44zM1183.48 200.12h7.44v42.62h-7.44zM1190.93 241.21h7.44v50.18h-7.44zM1198.37 238.78h7.44v53.12h-7.44zM1205.81 200.12h7.44v35.46h-7.44zM1213.26 225.59h7.44v70.53h-7.44zM1220.70 200.12h7.44v45.06h-7.44zM1228.14 212.92h7.44v40.19h-7.44zM1235.59 213.05h7.44v84.86h-7.44zM1243.03 204.73h7.44v33.54h-7.44zM1250.47 201.91h7.44v37.38h-7.44zM1257.91 224.31h7.44v74.50h-7.44zM1265.36 259.13h7.44v48.64h-7.44z"/>
<path fill="#0000FF" d="M439.19 195.00h7.44v10.88h-7.44zM446.63 195.00h7.44v11.90h-7.44zM454.08 195.00h7.44v10.50h-7.44zM461.52 195.00h7.44v11.26h-7.44zM468.96 195.00h7.44v6.91h-7.44zM476.40 195.00h7.44v7.94h-7.44zM483.85 195.00h7.44v8.58h-7.44zM506.18 195.00h7.44v3.84h-7.44zM513.62 195.00h7.44v5.50h-7.44zM521.06 195.00h7.44v6.53h-7.44zM528.51 195.00h7.44v6.91h-7.44zM573.16 195.00h7.44v0.51h-7.44zM580.61 195.00h7.44v1.28h-7.44zM588.05 195.00h7.44v1.54h-7.44zM595.49 195.00h7.44v4.61h-7.44zM602.93 195.00h7.44v2.94h-7.44zM632.71 195.00h7.44v6.53h-7.44zM647.59 195.00h7.44v6.53h-7.44zM722.02 195.00h7.44v1.92h-7.44zM729.47 195.00h7.44v3.33h-7.44zM736.91 195.00h7.44v4.61h-7.44zM744.35 195.00h7.44v1.92h-7.44zM751.79 195.00h7.44v4.61h-7.44zM878.32 195.00h7.44v0.51h-7.44zM893.21 195.00h7.44v1.92h-7.44zM908.10 195.00h7.44v2.43h-7.44zM915.54 195.00h7.44v2.56h-7.44zM922.98 195.00h7.44v2.94h-7.44zM930.42 195.00h7.44v12.80h-7.44zM937.87 195.00h7.44v11.90h-7.44zM945.31 195.00h7.44v128.00h-7.44zM952.75 195.00h7.44v128.00h-7.44zM960.20 195.00h7.44v128.00h-7.44zM967.64 195.00h7.44v128.00h-7.44zM975.08 195.00h7.44v128.00h-7.44zM982.53 195.00h7.44v128.00h-7.44zM989.97 195.00h7.44v128.00h-7.44zM997.41 195.00h7.44v128.00h-7.44zM1004.85 195.00h7.44v128.00h-7.44zM1012.30 195.00h7.44v1.28h-7.44zM1019.74 195.00h7.44v2.94h-7.44zM1027.18 195.00h7.44v2.05h-7.44zM1034.63 195.00h7.44v1.54h-7.44zM1042.07 195.00h7.44v3.84h-7.44zM1049.51 195.00h7.44v0.26h-7.44zM1056.95 195.00h7.44v2.18h-7.44zM1071.84 195.00h7.44v2.05h-7.44zM1086.73 195.00h7.44v1.02h-7.44zM1101.61 195.00h7.44v75.52h-7.44zM1109.06 195.00h7.44v50.94h-7.44zM1116.50 195.00h7.44v5.50h-7.44zM1131.38 195.00h7.44v85.50h-7.44zM1138.83 195.00h7.44v23.81h-7.44zM1146.27 195.00h7.44v34.56h-7.44zM1153.71 195.00h7.44v67.07h-7.44zM1161.16 195.00h7.44v59.14h-7.44zM1168.60 195.00h7.44v9.98h-7.44zM1176.04 195.00h7.44v13.44h-7.44zM1183.48 195.00h7.44v5.12h-7.44zM1190.93 195.00h7.44v46.21h-7.44zM1198.37 195.00h7.44v43.78h-7.44zM1205.81 195.00h7.44v5.12h-7.44zM1213.26 195.00h7.44v30.59h-7.44zM1220.70 195.00h7.44v5.12h-7.44zM1228.14 195.00h7.44v17.92h-7.44zM1235.59 195.00h7.44v18.05h-7.44zM1243.03 195.00h7.44v9.73h-7.44zM1250.47 195.00h7.44v6.91h-7.44zM1257.91 195.00h7.44v29.31h-7.44zM1265.36 195.00h7.44v64.13h-7.44z"/>
<path fill="#008B00" d="M59.60 373.15h7.44v128.00h-7.44zM67.04 373.15h7.44v128.00h-7.44zM74.49 373.15h7.44v128.00h-7.44zM81.93 373.15h7.44v128.00h-7.44zM89.37 373.15h7.44v128.00h-7.44zM96.81 373.15h7.44v128.00h-7.44zM104.26 374.17h7.44v126.98h-7.44zM111.70 376.48h7.44v124.67h-7.44zM119.14 390.05h7.44v111.10h-7.44zM238.23 500.77h7.44v0.38h-7.44zM245.67 500.13h7.44v1.02h-7.44zM253.12 499.10h7.44v2.05h-7.44zM260.56 497.95h7.44v3.20h-7.44zM268.00 496.03h7.44v5.12h-7.44zM275.45 484.89h7.44v16.26h-7.44zM282.89 486.30h7.44v14.85h-7.44zM290.33 485.92h7.44v15.23h-7.44zM297.77 485.66h7.44v15.49h-7.44zM305.22 485.28h7.44v15.87h-7.44zM394.53 499.61h7.44v1.54h-7.44zM401.98 499.61h7.44v1.54h-7.44zM409.42 499.61h7.44v1.54h-7.44zM416.86 499.61h7.44v1.54h-7.44zM424.30 497.57h7.44v3.58h-7.44zM431.75 498.21h7.44v2.94h-7.44zM439.19 481.31h7.44v19.84h-7.44zM446.63 480.93h7.44v20.22h-7.44zM454.08 481.69h7.44v19.46h-7.44zM461.52 481.31h7.44v19.84h-7.44zM468.96 488.22h7.44v12.93h-7.44zM476.40 487.84h7.44v13.31h-7.44zM483.85 488.86h7.44v12.29h-7.44zM521.06 498.21h7.44v2.94h-7.44zM528.51 497.18h7.44v3.97h-7.44zM1012.30 422.17h7.44v78.98h-7.44zM1019.74 466.97h7.44v34.18h-7.44zM1027.18 479.90h7.44v21.25h-7.44zM1034.63 482.46h7.44v18.69h-7.44zM1042.07 483.23h7.44v17.92h-7.44zM1049.51 481.44h7.44v19.71h-7.44zM1056.95 486.43h7.44v14.72h-7.44zM1064.40 488.22h7.44v12.93h-7.44zM1071.84 490.40h7.44v10.75h-7.44zM1079.28 494.37h7.44v6.78h-7.44zM1086.73 499.61h7.44v1.54h-7.44z"/>
<path fill="#00EE00" d="M104.26 373.15h7.44v1.02h-7.44zM111.70 373.15h7.44v3.33h-7.44zM119.14 381.09h7.44v8.96h-7.44zM126.59 373.15h7.44v128.00h-7.44zM134.03 373.15h7.44v128.00h-7.44zM141.47 373.15h7.44v128.00h-7.44zM148.92 373.15h7.44v128.00h-7.44zM156.36 373.15h7.44v128.00h-7.44zM163.80 373.15h7.44v128.00h-7.44zM171.24 373.15h7.44v128.00h-7.44zM178.69 373.15h7.44v128.00h-7.44zM186.13 373.15h7.44v128.00h-7.44zM193.57 373.15h7.44v128.00h-7.44zM201.02 373.15h7.44v128.00h-7.44zM208.46 373.15h7.44v128.00h-7.44zM215.90 373.15h7.44v128.00h-7.44zM223.34 373.15h7.44v128.00h-7.44zM230.79 373.15h7.44v128.00h-7.44zM238.23 373.15h7.44v127.62h-7.44zM245.67 373.79h7.44v126.34h-7.44zM253.12 376.09h7.44v123.01h-7.44zM260.56 377.12h7.44v120.83h-7.44zM268.00 379.17h7.44v116.86h-7.44zM275.45 385.05h7.44v99.84h-7.44zM282.89 385.95h7.44v100.35h-7.44zM290.33 387.10h7.44v98.82h-7.44zM297.77 388.38h7.44v97.28h-7.44zM305.22 388.00h7.44v97.28h-7.44zM364.76 500.64h7.44v0.51h-7.44zM372.20 500.13h7.44v1.02h-7.44zM379.65 499.61h7.44v1.54h-7.44zM387.09 498.85h7.44v2.30h-7.44zM394.53 494.75h7.44v4.86h-7.44zM401.98 494.24h7.44v5.38h-7.44zM409.42 493.21h7.44v6.40h-7.44zM416.86 492.83h7.44v6.78h-7.44zM424.30 488.86h7.44v8.70h-7.44zM431.75 489.25h7.44v8.96h-7.44zM439.19 455.45h7.44v25.86h-7.44zM446.63 455.84h7.44v25.09h-7.44zM454.08 455.45h7.44v26.24h-7.44zM461.52 455.07h7.44v26.24h-7.44zM468.96 467.74h7.44v20.48h-7.44zM476.40 466.97h7.44v20.86h-7.44zM483.85 470.30h7.44v18.56h-7.44zM521.06 492.19h7.44v6.02h-7.44zM528.51 489.63h7.44v7.55h-7.44zM1012.30 402.08h7.44v20.10h-7.44zM1019.74 429.21h7.44v37.76h-7.44zM1027.18 433.18h7.44v46.72h-7.44zM1034.63 416.93h7.44v65.54h-7.44zM1042.07 434.21h7.44v49.02h-7.44zM1049.51 402.97h7.44v78.46h-7.44zM1056.95 416.93h7.44v69.50h-7.44zM1064.40 394.65h7.44v93.57h-7.44zM1071.84 466.46h7.44v23.94h-7.44zM1079.28 477.47h7.44v16.90h-7.44zM1086.73 488.22h7.44v11.39h-7.44zM1094.17 493.34h7.44v7.81h-7.44zM1116.50 494.37h7.44v6.78h-7.44zM1123.94 500.38h7.44v0.77h-7.44z"/>
<path fill="#7FFF00" d="M119.14 375.20h7.44v5.89h-7.44zM245.67 373.15h7.44v0.64h-7.44zM253.12 373.15h7.44v2.94h-7.44zM260.56 373.15h7.44v3.97h-7.44zM268.00 373.15h7.44v6.02h-7.44zM275.45 373.15h7.44v11.90h-7.44zM282.89 373.15h7.44v12.80h-7.44zM290.33 373.15h7.44v13.95h-7.44zM297.77 373.15h7.44v15.23h-7.44zM305.22 373.15h7.44v14.85h-7.44zM312.66 373.15h7.44v128.00h-7.44zM320.10 373.15h7.44v128.00h-7.44zM327.55 373.15h7.44v128.00h-7.44zM334.99 373.15h7.44v128.00h-7.44zM342.43 373.15h7.44v128.00h-7.44zM349.87 373.15h7.44v128.00h-7.44zM357.32 373.15h7.44v128.00h-7.44zM364.76 373.15h7.44v127.49h-7.44zM372.20 373.15h7.44v126.98h-7.44zM379.65 373.15h7.44v126.46h-7.44zM387.09 373.15h7.44v125.70h-7.44zM394.53 374.43h7.44v120.32h-7.44zM401.98 375.07h7.44v119.17h-7.44zM409.42 373.15h7.44v120.06h-7.44zM416.86 373.15h7.44v119.68h-7.44zM424.30 378.53h7.44v110.34h-7.44zM431.75 380.06h7.44v109.18h-7.44zM439.19 433.18h7.44v22.27h-7.44zM446.63 433.57h7.44v22.27h-7.44zM454.08 433.57h7.44v21.89h-7.44zM461.52 432.93h7.44v22.14h-7.44zM468.96 433.18h7.44v34.56h-7.44zM476.40 432.54h7.44v34.43h-7.44zM483.85 436.00h7.44v34.30h-7.44zM506.18 500.77h7.44v0.38h-7.44zM513.62 497.31h7.44v3.84h-7.44zM521.06 483.23h7.44v8.96h-7.44zM528.51 479.26h7.44v10.37h-7.44zM573.16 500.64h7.44v0.51h-7.44zM580.61 499.87h7.44v1.28h-7.44zM588.05 499.61h7.44v1.54h-7.44zM632.71 498.59h7.44v2.56h-7.44zM647.59 497.95h7.44v3.20h-7.44zM1012.30 389.02h7.44v13.06h-7.44zM1019.74 402.97h7.44v26.24h-7.44zM1027.18 400.80h7.44v32.38h-7.44zM1034.63 392.09h7.44v24.83h-7.44zM1042.07 402.85h7.44v31.36h-7.44zM1049.51 383.90h7.44v19.07h-7.44zM1056.95 396.83h7.44v20.10h-7.44zM1064.40 378.91h7.44v15.74h-7.44zM1071.84 410.91h7.44v55.55h-7.44zM1079.28 389.02h7.44v88.45h-7.44zM1086.73 468.00h7.44v20.22h-7.44zM1094.17 480.29h7.44v13.06h-7.44zM1101.61 499.36h7.44v1.79h-7.44zM1116.50 482.21h7.44v12.16h-7.44zM1123.94 496.93h7.44v3.46h-7.44zM1138.83 499.87h7.44v1.28h-7.44zM1146.27 500.51h7.44v0.64h-7.44zM1168.60 500.13h7.44v1.02h-7.44z"/>
<path fill="#ADD8E6" d="M119.14 374.17h7.44v1.02h-7.44zM401.98 373.15h7.44v1.92h-7.44zM424.30 377.50h7.44v1.02h-7.44zM431.75 377.50h7.44v2.56h-7.44zM439.19 424.22h7.44v8.96h-7.44zM446.63 424.61h7.44v8.96h-7.44zM454.08 423.58h7.44v9.98h-7.44zM461.52 423.20h7.44v9.73h-7.44zM468.96 408.73h7.44v24.45h-7.44zM476.40 408.35h7.44v24.19h-7.44zM483.85 411.29h7.44v24.70h-7.44zM491.29 373.15h7.44v128.00h-7.44zM498.73 373.15h7.44v128.00h-7.44zM506.18 376.99h7.44v123.78h-7.44zM513.62 378.65h7.44v118.66h-7.44zM521.06 383.90h7.44v99.33h-7.44zM528.51 384.93h7.44v94.34h-7.44zM595.49 500.13h7.44v1.02h-7.44zM602.93 498.85h7.44v2.30h-7.44zM632.71 496.16h7.44v2.43h-7.44zM647.59 494.75h7.44v3.20h-7.44zM1012.30 383.39h7.44v5.63h-7.44zM1019.74 390.43h7.44v12.54h-7.44zM1027.18 389.41h7.44v11.39h-7.44zM1034.63 384.93h7.44v7.17h-7.44zM1042.07 391.71h7.44v11.14h-7.44zM1049.51 378.91h7.44v4.99h-7.44zM1056.95 389.02h7.44v7.81h-7.44zM1064.40 375.20h7.44v3.71h-7.44zM1071.84 399.77h7.44v11.14h-7.44zM1079.28 383.39h7.44v5.63h-7.44zM1086.73 467.36h7.44v0.64h-7.44zM1116.50 479.65h7.44v2.56h-7.44zM1123.94 495.13h7.44v1.79h-7.44zM1138.83 491.17h7.44v8.70h-7.44zM1168.60 496.54h7.44v3.58h-7.44zM1176.04 497.31h7.44v3.84h-7.44z"/>
<path fill="#FF0000" d="M119.14 373.15h7.44v1.02h-7.44zM439.19 384.54h7.44v8.32h-7.44zM446.63 385.31h7.44v8.06h-7.44zM454.08 383.90h7.44v7.94h-7.44zM461.52 384.93h7.44v7.94h-7.44zM468.96 379.93h7.44v13.82h-7.44zM476.40 380.83h7.44v13.57h-7.44zM483.85 381.85h7.44v13.95h-7.44zM595.49 377.76h7.44v5.38h-7.44zM602.93 376.09h7.44v5.63h-7.44zM610.38 373.15h7.44v22.40h-7.44zM617.82 373.15h7.44v22.78h-7.44zM625.26 373.15h7.44v23.42h-7.44zM632.71 379.68h7.44v9.73h-7.44zM640.15 373.15h7.44v23.17h-7.44zM647.59 379.68h7.44v11.39h-7.44zM677.36 373.15h7.44v11.52h-7.44zM684.81 373.15h7.44v12.29h-7.44zM692.25 373.15h7.44v12.93h-7.44zM699.69 373.15h7.44v13.95h-7.44zM707.14 373.15h7.44v14.85h-7.44zM714.58 373.15h7.44v15.87h-7.44zM722.02 375.07h7.44v22.91h-7.44zM729.47 376.48h7.44v30.46h-7.44zM736.91 377.76h7.44v31.10h-7.44zM744.35 375.07h7.44v33.41h-7.44zM751.79 377.76h7.44v30.72h-7.44zM759.24 373.15h7.44v128.00h-7.44zM766.68 373.15h7.44v128.00h-7.44zM774.12 373.15h7.44v128.00h-7.44zM781.57 373.15h7.44v128.00h-7.44zM789.01 373.15h7.44v128.00h-7.44zM796.45 373.15h7.44v128.00h-7.44zM803.89 373.15h7.44v128.00h-7.44zM811.34 373.15h7.44v128.00h-7.44zM818.78 373.15h7.44v128.00h-7.44zM826.22 373.15h7.44v128.00h-7.44zM833.67 373.15h7.44v128.00h-7.44zM841.11 373.15h7.44v128.00h-7.44zM848.55 373.15h7.44v128.00h-7.44zM856.00 373.15h7.44v127.49h-7.44zM863.44 373.15h7.44v127.23h-7.44zM870.88 373.15h7.44v126.72h-7.44zM878.32 373.66h7.44v124.93h-7.44zM885.77 373.15h7.44v124.16h-7.44zM893.21 375.07h7.44v122.88h-7.44zM900.65 373.15h7.44v121.09h-7.44zM908.10 375.58h7.44v120.45h-7.44zM915.54 375.71h7.44v120.32h-7.44zM922.98 376.09h7.44v119.94h-7.44zM930.42 385.95h7.44v94.98h-7.44zM937.87 385.05h7.44v90.75h-7.44zM1012.30 374.94h7.44v3.20h-7.44zM1019.74 376.48h7.44v5.38h-7.44zM1027.18 375.45h7.44v6.91h-7.44zM1034.63 374.94h7.44v4.48h-7.44zM1042.07 376.99h7.44v7.42h-7.44zM1056.95 375.45h7.44v6.40h-7.44zM1064.40 373.15h7.44v2.05h-7.44zM1071.84 375.20h7.44v8.45h-7.44zM1079.28 373.15h7.44v2.05h-7.44zM1086.73 373.92h7.44v18.18h-7.44zM1094.17 373.15h7.44v20.86h-7.44zM1101.61 448.80h7.44v25.47h-7.44zM1109.06 423.97h7.44v61.31h-7.44zM1116.50 378.78h7.44v22.27h-7.44zM1123.94 373.15h7.44v44.54h-7.44zM1131.38 458.53h7.44v14.46h-7.44zM1138.83 396.96h7.44v27.14h-7.44zM1146.27 407.71h7.44v10.62h-7.44zM1153.71 440.22h7.44v41.98h-7.44zM1161.16 432.29h7.44v52.22h-7.44zM1168.60 383.13h7.44v24.06h-7.44zM1176.04 386.59h7.44v35.20h-7.44zM1183.48 378.27h7.44v42.62h-7.44zM1190.93 419.36h7.44v50.18h-7.44zM1198.37 416.93h7.44v53.12h-7.44zM1205.81 378.27h7.44v35.46h-7.44zM1213.26 403.74h7.44v70.53h-7.44zM1220.70 378.27h7.44v45.06h-7.44zM1228.14 391.07h7.44v40.19h-7.44zM1235.59 391.20h7.44v84.86h-7.44zM1243.03 382.88h7.44v33.54h-7.44zM1250.47 380.06h7.44v37.38h-7.44zM1257.91 402.46h7.44v74.50h-7.44zM1265.36 437.28h7.44v48.64h-7.44z"/>
<path fill="#FFA500" d="M394.53 373.15h7.44v1.28h-7.44zM424.30 373.15h7.44v4.35h-7.44zM431.75 373.15h7.44v4.35h-7.44zM439.19 414.24h7.44v9.98h-7.44zM446.63 414.75h7.44v9.86h-7.44zM454.08 413.73h7.44v9.86h-7.44zM461.52 414.24h7.44v8.96h-7.44zM468.96 393.76h7.44v14.98h-7.44zM476.40 394.40h7.44v13.95h-7.44zM483.85 395.81h7.44v15.49h-7.44zM521.06 379.55h7.44v4.35h-7.44zM528.51 379.93h7.44v4.99h-7.44zM535.95 373.15h7.44v128.00h-7.44zM543.39 373.15h7.44v128.00h-7.44zM550.83 373.15h7.44v128.00h-7.44zM558.28 373.15h7.44v128.00h-7.44zM565.72 373.15h7.44v128.00h-7.44zM573.16 373.66h7.44v126.98h-7.44zM580.61 374.43h7.44v125.44h-7.44zM588.05 374.69h7.44v124.93h-7.44zM595.49 383.13h7.44v116.99h-7.44zM602.93 383.13h7.44v115.71h-7.44zM610.38 395.55h7.44v105.60h-7.44zM617.82 395.93h7.44v105.22h-7.44zM625.26 396.57h7.44v104.58h-7.44zM632.71 389.41h7.44v106.75h-7.44zM640.15 396.32h7.44v104.83h-7.44zM647.59 391.07h7.44v103.68h-7.44zM729.47 499.87h7.44v1.28h-7.44zM930.42 498.72h7.44v2.43h-7.44zM937.87 496.16h7.44v4.99h-7.44zM1012.30 378.14h7.44v5.25h-7.44zM1019.74 381.85h7.44v8.58h-7.44zM1027.18 382.37h7.44v7.04h-7.44zM1034.63 379.42h7.44v5.50h-7.44zM1042.07 384.41h7.44v7.30h-7.44zM1049.51 373.41h7.44v5.50h-7.44zM1056.95 381.85h7.44v7.17h-7.44zM1071.84 385.95h7.44v13.82h-7.44zM1079.28 375.20h7.44v8.19h-7.44zM1086.73 420.25h7.44v47.10h-7.44zM1094.17 424.73h7.44v55.55h-7.44zM1101.61 487.20h7.44v12.16h-7.44zM1109.06 493.85h7.44v7.30h-7.44zM1116.50 401.05h7.44v78.59h-7.44zM1123.94 490.65h7.44v4.48h-7.44zM1131.38 484.89h7.44v16.26h-7.44zM1138.83 439.58h7.44v51.58h-7.44zM1146.27 487.58h7.44v12.93h-7.44zM1153.71 492.96h7.44v8.19h-7.44zM1161.16 493.85h7.44v7.30h-7.44zM1168.60 484.00h7.44v12.54h-7.44zM1176.04 428.32h7.44v68.99h-7.44zM1183.48 497.57h7.44v3.58h-7.44zM1190.93 488.22h7.44v12.93h-7.44zM1198.37 489.37h7.44v11.78h-7.44zM1205.81 498.33h7.44v2.82h-7.44zM1213.26 493.47h7.44v7.68h-7.44zM1220.70 499.36h7.44v1.79h-7.44zM1228.14 492.45h7.44v8.70h-7.44zM1235.59 495.65h7.44v5.50h-7.44zM1243.03 497.82h7.44v3.33h-7.44zM1250.47 497.18h7.44v3.97h-7.44zM1257.91 494.88h7.44v6.27h-7.44zM1265.36 495.39h7.44v5.76h-7.44z"/>
<path fill="#CAFF70" d="M439.19 392.86h7.44v21.38h-7.44zM446.63 393.37h7.44v21.38h-7.44zM454.08 391.84h7.44v21.89h-7.44zM461.52 392.86h7.44v21.38h-7.44zM602.93 381.73h7.44v1.41h-7.44zM655.04 373.15h7.44v128.00h-7.44zM662.48 373.15h7.44v128.00h-7.44zM669.92 373.15h7.44v128.00h-7.44zM677.36 384.67h7.44v116.48h-7.44zM684.81 385.44h7.44v115.71h-7.44zM692.25 386.08h7.44v115.07h-7.44zM699.69 387.10h7.44v114.05h-7.44zM707.14 388.00h7.44v113.15h-7.44zM714.58 389.02h7.44v112.13h-7.44zM722.02 397.98h7.44v103.17h-7.44zM729.47 406.94h7.44v92.93h-7.44zM736.91 408.86h7.44v92.29h-7.44zM744.35 408.48h7.44v92.67h-7.44zM751.79 408.48h7.44v92.67h-7.44zM856.00 500.64h7.44v0.51h-7.44zM863.44 500.38h7.44v0.77h-7.44zM870.88 499.87h7.44v1.28h-7.44zM878.32 498.59h7.44v2.56h-7.44zM885.77 497.31h7.44v3.84h-7.44zM893.21 497.95h7.44v3.20h-7.44zM900.65 494.24h7.44v6.91h-7.44zM908.10 496.03h7.44v5.12h-7.44zM915.54 496.03h7.44v5.12h-7.44zM922.98 496.03h7.44v5.12h-7.44zM930.42 480.93h7.44v17.79h-7.44zM937.87 475.81h7.44v20.35h-7.44zM1071.84 383.65h7.44v2.30h-7.44zM1086.73 392.09h7.44v28.16h-7.44zM1094.17 394.01h7.44v30.72h-7.44zM1101.61 474.27h7.44v12.93h-7.44zM1109.06 485.28h7.44v8.58h-7.44zM1123.94 417.69h7.44v72.96h-7.44zM1131.38 472.99h7.44v11.90h-7.44zM1138.83 424.09h7.44v15.49h-7.44zM1146.27 418.33h7.44v69.25h-7.44zM1153.71 482.21h7.44v10.75h-7.44zM1161.16 484.51h7.44v9.34h-7.44zM1168.60 407.20h7.44v76.80h-7.44zM1176.04 421.79h7.44v6.53h-7.44zM1183.48 420.89h7.44v76.67h-7.44zM1190.93 469.53h7.44v18.69h-7.44zM1198.37 470.05h7.44v19.33h-7.44zM1205.81 413.73h7.44v84.61h-7.44zM1213.26 474.27h7.44v19.20h-7.44zM1220.70 423.33h7.44v76.03h-7.44zM1228.14 431.26h7.44v61.18h-7.44zM1235.59 476.06h7.44v19.58h-7.44zM1243.03 416.41h7.44v81.41h-7.44zM1250.47 417.44h7.44v79.74h-7.44zM1257.91 476.96h7.44v17.92h-7.44zM1265.36 485.92h7.44v9.47h-7.44z"/>
<path fill="#0000FF" d="M439.19 373.15h7.44v11.39h-7.44zM446.63 373.15h7.44v12.16h-7.44zM454.08 373.15h7.44v10.75h-7.44zM461.52 373.15h7.44v11.78h-7.44zM468.96 373.15h7.44v6.78h-7.44zM476.40 373.15h7.44v7.68h-7.44zM483.85 373.15h7.44v8.70h-7.44zM506.18 373.15h7.44v3.84h-7.44zM513.62 373.15h7.44v5.50h-7.44zM521.06 373.15h7.44v6.40h-7.44zM528.51 373.15h7.44v6.78h-7.44zM573.16 373.15h7.44v0.51h-7.44zM580.61 373.15h7.44v1.28h-7.44zM588.05 373.15h7.44v1.54h-7.44zM595.49 373.15h7.44v4.61h-7.44zM602.93 373.15h7.44v2.94h-7.44zM632.71 373.15h7.44v6.53h-7.44zM647.59 373.15h7.44v6.53h-7.44zM722.02 373.15h7.44v1.92h-7.44zM729.47 373.15h7.44v3.33h-7.44zM736.91 373.15h7.44v4.61h-7.44zM744.35 373.15h7.44v1.92h-7.44zM751.79 373.15h7.44v4.61h-7.44zM878.32 373.15h7.44v0.51h-7.44zM893.21 373.15h7.44v1.92h-7.44zM908.10 373.15h7.44v2.43h-7.44zM915.54 373.15h7.44v2.56h-7.44zM922.98 373.15h7.44v2.94h-7.44zM930.42 373.15h7.44v12.80h-7.44zM937.87 373.15h7.44v11.90h-7.44zM945.31 373.15h7.44v128.00h-7.44zM952.75 373.15h7.44v128.00h-7.44zM960.20 373.15h7.44v128.00h-7.44zM967.64 373.15h7.44v128.00h-7.44zM975.08 373.15h7.44v128.00h-7.44zM982.53 373.15h7.44v128.00h-7.44zM989.97 373.15h7.44v128.00h-7.44zM997.41 373.15h7.44v128.00h-7.44zM1004.85 373.15h7.44v128.00h-7.44zM1012.30 373.15h7.44v1.79h-7.44zM1019.74 373.15h7.44v3.33h-7.44zM1027.18 373.15h7.44v2.30h-7.44zM1034.63 373.15h7.44v1.79h-7.44zM1042.07 373.15h7.44v3.84h-7.44zM1049.51 373.15h7.44v0.26h-7.44zM1056.95 373.15h7.44v2.30h-7.44zM1071.84 373.15h7.44v2.05h-7.44zM1086.73 373.15h7.44v0.77h-7.44zM1101.61 373.15h7.44v75.65h-7.44zM1109.06 373.15h7.44v50.82h-7.44zM1116.50 373.15h7.44v5.63h-7.44zM1131.38 373.15h7.44v85.38h-7.44zM1138.83 373.15h7.44v23.81h-7.44zM1146.27 373.15h7.44v34.56h-7.44zM1153.71 373.15h7.44v67.07h-7.44zM1161.16 373.15h7.44v59.14h-7.44zM1168.60 373.15h7.44v9.98h-7.44zM1176.04 373.15h7.44v13.44h-7.44zM1183.48 373.15h7.44v5.12h-7.44zM1190.93 373.15h7.44v46.21h-7.44zM1198.37 373.15h7.44v43.78h-7.44zM1205.81 373.15h7.44v5.12h-7.44zM1213.26 373.15h7.44v30.59h-7.44zM1220.70 373.15h7.44v5.12h-7.44zM1228.14 373.15h7.44v17.92h-7.44zM1235.59 373.15h7.44v18.05h-7.44zM1243.03 373.15h7.44v9.73h-7.44zM1250.47 373.15h7.44v6.91h-7.44zM1257.91 373.15h7.44v29.31h-7.44zM1265.36 373.15h7.44v64.13h-7.44z"/>
<path fill="#008B00" d="M59.60 551.45h7.44v128.00h-7.44zM67.04 551.45h7.44v128.00h-7.44zM74.49 551.45h7.44v128.00h-7.44zM81.93 551.45h7.44v128.00h-7.44zM89.37 551.45h7.44v128.00h-7.44zM96.81 551.45h7.44v128.00h-7.44zM104.26 552.47h7.44v126.98h-7.44zM111.70 554.78h7.44v124.67h-7.44zM119.14 568.73h7.44v110.72h-7.44zM238.23 679.07h7.44v0.38h-7.44zM245.67 678.43h7.44v1.02h-7.44zM253.12 677.40h7.44v2.05h-7.44zM260.56 676.63h7.44v2.82h-7.44zM268.00 674.97h7.44v4.48h-7.44zM275.45 664.09h7.44v15.36h-7.44zM282.89 665.50h7.44v13.95h-7.44zM290.33 665.11h7.44v14.34h-7.44zM297.77 664.73h7.44v14.72h-7.44zM305.22 664.73h7.44v14.72h-7.44zM394.53 677.91h7.44v1.54h-7.44zM401.98 677.91h7.44v1.54h-7.44zM409.42 677.91h7.44v1.54h-7.44zM416.86 677.91h7.44v1.54h-7.44zM424.30 675.87h7.44v3.58h-7.44zM431.75 676.51h7.44v2.94h-7.44zM468.96 668.57h7.44v10.88h-7.44zM476.40 668.06h7.44v11.39h-7.44zM483.85 669.08h7.44v10.37h-7.44zM521.06 676.12h7.44v3.33h-7.44zM528.51 675.10h7.44v4.35h-7.44zM1012.30 601.63h7.44v77.82h-7.44zM1019.74 652.31h7.44v27.14h-7.44zM1027.18 659.99h7.44v19.46h-7.44zM1034.63 661.91h7.44v17.54h-7.44zM1042.07 663.45h7.44v16.00h-7.44zM1049.51 664.99h7.44v14.46h-7.44zM1056.95 666.01h7.44v13.44h-7.44zM1064.40 668.44h7.44v11.01h-7.44zM1071.84 670.49h7.44v8.96h-7.44zM1079.28 673.43h7.44v6.02h-7.44zM1086.73 677.91h7.44v1.54h-7.44z"/>
<path fill="#00EE00" d="M104.26 551.45h7.44v1.02h-7.44zM111.70 551.45h7.44v3.33h-7.44zM119.14 559.77h7.44v8.96h-7.44zM126.59 551.45h7.44v128.00h-7.44zM134.03 551.45h7.44v128.00h-7.44zM141.47 551.45h7.44v128.00h-7.44zM148.92 551.45h7.44v128.00h-7.44zM156.36 551.45h7.44v128.00h-7.44zM163.80 551.45h7.44v128.00h-7.44zM171.24 551.45h7.44v128.00h-7.44zM178.69 551.45h7.44v128.00h-7.44zM186.13 551.45h7.44v128.00h-7.44zM193.57 551.45h7.44v128.00h-7.44zM201.02 551.45h7.44v128.00h-7.44zM208.46 551.45h7.44v128.00h-7.44zM215.90 551.45h7.44v128.00h-7.44zM223.34 551.45h7.44v128.00h-7.44zM230.79 551.45h7.44v128.00h-7.44zM238.23 551.45h7.44v127.62h-7.44zM245.67 552.09h7.44v126.34h-7.44zM253.12 556.19h7.44v121.22h-7.44zM260.56 554.78h7.44v121.86h-7.44zM268.00 559.77h7.44v115.20h-7.44zM275.45 568.73h7.44v95.36h-7.44zM282.89 570.39h7.44v95.10h-7.44zM290.33 570.78h7.44v94.34h-7.44zM297.77 571.67h7.44v93.06h-7.44zM305.22 572.70h7.44v92.03h-7.44zM364.76 678.94h7.44v0.51h-7.44zM372.20 678.43h7.44v1.02h-7.44zM379.65 677.91h7.44v1.54h-7.44zM387.09 677.15h7.44v2.30h-7.44zM394.53 673.05h7.44v4.86h-7.44zM401.98 672.54h7.44v5.38h-7.44zM409.42 671.51h7.44v6.40h-7.44zM416.86 671.13h7.44v6.78h-7.44zM424.30 667.16h7.44v8.70h-7.44zM431.75 667.55h7.44v8.96h-7.44zM468.96 650.65h7.44v17.92h-7.44zM476.40 649.88h7.44v18.18h-7.44zM483.85 652.19h7.44v16.90h-7.44zM521.06 670.11h7.44v6.02h-7.44zM528.51 668.06h7.44v7.04h-7.44zM1012.30 582.55h7.44v19.07h-7.44zM1019.74 625.56h7.44v26.75h-7.44zM1027.18 616.99h7.44v43.01h-7.44zM1034.63 599.32h7.44v62.59h-7.44zM1042.07 617.37h7.44v46.08h-7.44zM1049.51 592.03h7.44v72.96h-7.44zM1056.95 599.32h7.44v66.69h-7.44zM1064.40 577.82h7.44v90.62h-7.44zM1071.84 647.45h7.44v23.04h-7.44zM1079.28 658.46h7.44v14.98h-7.44zM1086.73 666.52h7.44v11.39h-7.44zM1094.17 671.90h7.44v7.55h-7.44zM1116.50 672.67h7.44v6.78h-7.44zM1123.94 678.68h7.44v0.77h-7.44z"/>
<path fill="#7FFF00" d="M119.14 554.01h7.44v5.76h-7.44zM245.67 551.45h7.44v0.64h-7.44zM253.12 553.37h7.44v2.82h-7.44zM260.56 552.73h7.44v2.05h-7.44zM268.00 554.78h7.44v4.99h-7.44zM275.45 559.39h7.44v9.34h-7.44zM282.89 559.39h7.44v11.01h-7.44zM290.33 558.75h7.44v12.03h-7.44zM297.77 559.77h7.44v11.90h-7.44zM305.22 560.79h7.44v11.90h-7.44zM312.66 551.45h7.44v128.00h-7.44zM320.10 551.45h7.44v128.00h-7.44zM327.55 551.45h7.44v128.00h-7.44zM334.99 551.45h7.44v128.00h-7.44zM342.43 551.45h7.44v128.00h-7.44zM349.87 551.45h7.44v128.00h-7.44zM357.32 551.45h7.44v128.00h-7.44zM364.76 551.45h7.44v127.49h-7.44zM372.20 551.45h7.44v126.98h-7.44zM379.65 551.45h7.44v126.46h-7.44zM387.09 551.45h7.44v125.70h-7.44zM394.53 552.73h7.44v120.32h-7.44zM401.98 553.37h7.44v119.17h-7.44zM409.42 551.45h7.44v120.06h-7.44zM416.86 551.45h7.44v119.68h-7.44zM424.30 560.41h7.44v106.75h-7.44zM431.75 560.79h7.44v106.75h-7.44zM468.96 618.39h7.44v32.26h-7.44zM476.40 619.03h7.44v30.85h-7.44zM483.85 620.44h7.44v31.74h-7.44zM506.18 679.07h7.44v0.38h-7.44zM513.62 675.61h7.44v3.84h-7.44zM521.06 664.09h7.44v6.02h-7.44zM528.51 661.15h7.44v6.91h-7.44zM573.16 678.94h7.44v0.51h-7.44zM580.61 678.17h7.44v1.28h-7.44zM588.05 677.91h7.44v1.54h-7.44zM632.71 676.89h7.44v2.56h-7.44zM647.59 676.25h7.44v3.20h-7.44zM1012.30 570.65h7.44v11.90h-7.44zM1019.74 609.05h7.44v16.51h-7.44zM1027.18 587.55h7.44v29.44h-7.44zM1034.63 576.67h7.44v22.66h-7.44zM1042.07 589.08h7.44v28.29h-7.44zM1049.51 578.59h7.44v13.44h-7.44zM1056.95 581.15h7.44v18.18h-7.44zM1064.40 564.63h7.44v13.18h-7.44zM1071.84 594.07h7.44v53.38h-7.44zM1079.28 570.78h7.44v87.68h-7.44zM1086.73 646.94h7.44v19.58h-7.44zM1094.17 658.46h7.44v13.44h-7.44zM1101.61 677.66h7.44v1.79h-7.44zM1116.50 660.51h7.44v12.16h-7.44zM1123.94 675.23h7.44v3.46h-7.44zM1138.83 678.81h7.44v0.64h-7.44z"/>
<path fill="#ADFF2F" d="M119.14 551.45h7.44v2.56h-7.44zM253.12 551.45h7.44v1.92h-7.44zM260.56 551.45h7.44v1.28h-7.44zM268.00 551.45h7.44v3.33h-7.44zM275.45 551.45h7.44v7.94h-7.44zM282.89 551.45h7.44v7.94h-7.44zM290.33 551.45h7.44v7.30h-7.44zM297.77 551.45h7.44v8.32h-7.44zM305.22 551.45h7.44v9.34h-7.44zM424.30 556.83h7.44v3.58h-7.44zM431.75 557.85h7.44v2.94h-7.44zM439.19 551.45h7.44v128.00h-7.44zM446.63 551.45h7.44v128.00h-7.44zM454.08 551.45h7.44v128.00h-7.44zM461.52 551.45h7.44v128.00h-7.44zM468.96 605.85h7.44v12.54h-7.44zM476.40 605.85h7.44v13.18h-7.44zM483.85 609.43h7.44v11.01h-7.44zM521.06 661.15h7.44v2.94h-7.44zM528.51 657.18h7.44v3.97h-7.44zM1012.30 564.89h7.44v5.76h-7.44zM1019.74 564.89h7.44v44.16h-7.44zM1027.18 574.62h7.44v12.93h-7.44zM1034.63 567.58h7.44v9.09h-7.44zM1042.07 576.67h7.44v12.42h-7.44zM1049.51 556.19h7.44v22.40h-7.44zM1056.95 572.06h7.44v9.09h-7.44zM1064.40 554.65h7.44v9.98h-7.44zM1071.84 586.39h7.44v7.68h-7.44zM1079.28 564.63h7.44v6.14h-7.44zM1138.83 676.89h7.44v1.92h-7.44zM1146.27 675.61h7.44v3.84h-7.44zM1168.60 671.26h7.44v8.19h-7.44z"/>
<path fill="#FFA500" d="M394.53 551.45h7.44v1.28h-7.44zM424.30 551.45h7.44v4.35h-7.44zM431.75 551.45h7.44v4.35h-7.44zM468.96 569.75h7.44v13.44h-7.44zM476.40 570.14h7.44v12.54h-7.44zM483.85 572.06h7.44v13.57h-7.44zM521.06 557.85h7.44v4.86h-7.44zM528.51 558.23h7.44v4.99h-7.44zM535.95 551.45h7.44v128.00h-7.44zM543.39 551.45h7.44v128.00h-7.44zM550.83 551.45h7.44v128.00h-7.44zM558.28 551.45h7.44v128.00h-7.44zM565.72 551.45h7.44v128.00h-7.44zM573.16 551.96h7.44v126.98h-7.44zM580.61 552.73h7.44v125.44h-7.44zM588.05 552.99h7.44v124.93h-7.44zM595.49 561.43h7.44v116.99h-7.44zM602.93 561.43h7.44v115.71h-7.44zM610.38 573.85h7.44v105.60h-7.44zM617.82 574.23h7.44v105.22h-7.44zM625.26 574.87h7.44v104.58h-7.44zM632.71 567.71h7.44v106.75h-7.44zM640.15 574.62h7.44v104.83h-7.44zM647.59 569.37h7.44v103.68h-7.44zM729.47 678.17h7.44v1.28h-7.44zM930.42 677.02h7.44v2.43h-7.44zM937.87 674.46h7.44v4.99h-7.44zM1012.30 555.16h7.44v4.99h-7.44zM1019.74 552.09h7.44v4.10h-7.44zM1027.18 556.70h7.44v6.40h-7.44zM1034.63 555.80h7.44v4.99h-7.44zM1042.07 560.15h7.44v6.02h-7.44zM1049.51 551.71h7.44v1.92h-7.44zM1056.95 558.62h7.44v6.02h-7.44zM1071.84 562.59h7.44v13.06h-7.44zM1079.28 553.11h7.44v6.53h-7.44zM1086.73 598.81h7.44v46.85h-7.44zM1094.17 603.03h7.44v55.42h-7.44zM1101.61 665.50h7.44v12.16h-7.44zM1109.06 672.15h7.44v7.30h-7.44zM1116.50 579.35h7.44v78.59h-7.44zM1123.94 668.95h7.44v4.48h-7.44zM1131.38 663.19h7.44v16.26h-7.44zM1138.83 617.88h7.44v51.58h-7.44zM1146.27 664.35h7.44v11.26h-7.44zM1153.71 671.26h7.44v8.19h-7.44zM1161.16 672.15h7.44v7.30h-7.44zM1168.60 657.95h7.44v10.50h-7.44zM1176.04 606.62h7.44v68.99h-7.44zM1183.48 675.87h7.44v3.58h-7.44zM1190.93 666.52h7.44v12.93h-7.44zM1198.37 667.67h7.44v11.78h-7.44zM1205.81 676.63h7.44v2.82h-7.44zM1213.26 671.77h7.44v7.68h-7.44zM1220.70 677.66h7.44v1.79h-7.44zM1228.14 670.75h7.44v8.70h-7.44zM1235.59 673.95h7.44v5.50h-7.44zM1243.03 676.12h7.44v3.33h-7.44zM1250.47 675.48h7.44v3.97h-7.44zM1257.91 673.18h7.44v6.27h-7.44zM1265.36 673.69h7.44v5.76h-7.44z"/>
<path fill="#ADD8E6" d="M401.98 551.45h7.44v1.92h-7.44zM424.30 555.80h7.44v1.02h-7.44zM431.75 555.80h7.44v2.05h-7.44zM468.96 583.19h7.44v22.66h-7.44zM476.40 582.68h7.44v23.17h-7.44zM483.85 585.63h7.44v23.81h-7.44zM491.29 551.45h7.44v128.00h-7.44zM498.73 551.45h7.44v128.00h-7.44zM506.18 555.29h7.44v123.78h-7.44zM513.62 556.95h7.44v118.66h-7.44zM521.06 562.71h7.44v98.43h-7.44zM528.51 563.23h7.44v93.95h-7.44zM595.49 678.43h7.44v1.02h-7.44zM602.93 677.15h7.44v2.30h-7.44zM632.71 674.46h7.44v2.43h-7.44zM647.59 673.05h7.44v3.20h-7.44zM1012.30 560.15h7.44v4.74h-7.44zM1019.74 556.19h7.44v8.70h-7.44zM1027.18 563.10h7.44v11.52h-7.44zM1034.63 560.79h7.44v6.78h-7.44zM1042.07 566.17h7.44v10.50h-7.44zM1049.51 553.63h7.44v2.56h-7.44zM1056.95 564.63h7.44v7.42h-7.44zM1064.40 552.47h7.44v2.18h-7.44zM1071.84 575.64h7.44v10.75h-7.44zM1079.28 559.64h7.44v4.99h-7.44zM1086.73 645.66h7.44v1.28h-7.44zM1116.50 657.95h7.44v2.56h-7.44zM1123.94 673.43h7.44v1.79h-7.44zM1138.83 669.47h7.44v7.42h-7.44zM1168.60 668.44h7.44v2.82h-7.44zM1176.04 675.61h7.44v3.84h-7.44z"/>
<path fill="#FF0000" d="M468.96 556.83h7.44v12.93h-7.44zM476.40 557.85h7.44v12.29h-7.44zM483.85 558.75h7.44v13.31h-7.44zM595.49 556.06h7.44v5.38h-7.44zM602.93 554.39h7.44v5.63h-7.44zM610.38 551.45h7.44v22.40h-7.44zM617.82 551.45h7.44v22.78h-7.44zM625.26 551.45h7.44v23.42h-7.44zM632.71 557.98h7.44v9.73h-7.44zM640.15 551.45h7.44v23.17h-7.44zM647.59 557.98h7.44v11.39h-7.44zM677.36 551.45h7.44v11.52h-7.44zM684.81 551.45h7.44v12.29h-7.44zM692.25 551.45h7.44v12.93h-7.44zM699.69 551.45h7.44v13.95h-7.44zM707.14 551.45h7.44v14.85h-7.44zM714.58 551.45h7.44v15.87h-7.44zM722.02 553.37h7.44v22.91h-7.44zM729.47 554.78h7.44v30.46h-7.44zM736.91 556.06h7.44v31.10h-7.44zM744.35 553.37h7.44v33.41h-7.44zM751.79 556.06h7.44v30.72h-7.44zM759.24 551.45h7.44v128.00h-7.44zM766.68 551.45h7.44v128.00h-7.44zM774.12 551.45h7.44v128.00h-7.44zM781.57 551.45h7.44v128.00h-7.44zM789.01 551.45h7.44v128.00h-7.44zM796.45 551.45h7.44v128.00h-7.44zM803.89 551.45h7.44v128.00h-7.44zM811.34 551.45h7.44v128.00h-7.44zM818.78 551.45h7.44v128.00h-7.44zM826.22 551.45h7.44v128.00h-7.44zM833.67 551.45h7.44v128.00h-7.44zM841.11 551.45h7.44v128.00h-7.44zM848.55 551.45h7.44v128.00h-7.44zM856.00 551.45h7.44v127.49h-7.44zM863.44 551.45h7.44v127.23h-7.44zM870.88 551.45h7.44v126.72h-7.44zM878.32 551.96h7.44v124.93h-7.44zM885.77 551.45h7.44v124.16h-7.44zM893.21 553.37h7.44v122.88h-7.44zM900.65 551.45h7.44v121.09h-7.44zM908.10 553.88h7.44v120.45h-7.44zM915.54 554.01h7.44v120.32h-7.44zM922.98 554.39h7.44v119.94h-7.44zM930.42 564.25h7.44v94.98h-7.44zM937.87 563.35h7.44v90.75h-7.44zM1012.30 552.86h7.44v2.30h-7.44zM1027.18 552.09h7.44v4.61h-7.44zM1034.63 552.60h7.44v3.20h-7.44zM1042.07 554.14h7.44v6.02h-7.44zM1056.95 553.11h7.44v5.50h-7.44zM1064.40 551.45h7.44v1.02h-7.44zM1071.84 553.11h7.44v7.04h-7.44zM1079.28 551.45h7.44v1.66h-7.44zM1086.73 552.09h7.44v18.05h-7.44zM1094.17 551.45h7.44v21.12h-7.44zM1101.61 627.10h7.44v25.47h-7.44zM1109.06 602.27h7.44v61.31h-7.44zM1116.50 557.08h7.44v22.27h-7.44zM1123.94 551.45h7.44v44.54h-7.44zM1131.38 636.83h7.44v14.46h-7.44zM1138.83 575.26h7.44v27.14h-7.44zM1146.27 585.37h7.44v10.24h-7.44zM1153.71 618.52h7.44v41.98h-7.44zM1161.16 610.59h7.44v52.22h-7.44zM1168.60 561.43h7.44v21.63h-7.44zM1176.04 564.89h7.44v35.20h-7.44zM1183.48 556.57h7.44v42.62h-7.44zM1190.93 597.66h7.44v50.18h-7.44zM1198.37 595.23h7.44v53.12h-7.44zM1205.81 556.57h7.44v35.46h-7.44zM1213.26 582.04h7.44v70.53h-7.44zM1220.70 556.57h7.44v45.06h-7.44zM1228.14 569.37h7.44v40.19h-7.44zM1235.59 569.50h7.44v84.86h-7.44zM1243.03 561.18h7.44v33.54h-7.44zM1250.47 558.36h7.44v37.38h-7.44zM1257.91 580.76h7.44v74.50h-7.44zM1265.36 615.58h7.44v48.64h-7.44z"/>
<path fill="#0000FF" d="M468.96 551.45h7.44v5.38h-7.44zM476.40 551.45h7.44v6.40h-7.44zM483.85 551.45h7.44v7.30h-7.44zM506.18 551.45h7.44v3.84h-7.44zM513.62 551.45h7.44v5.50h-7.44zM521.06 551.45h7.44v6.40h-7.44zM528.51 551.45h7.44v6.78h-7.44zM573.16 551.45h7.44v0.51h-7.44zM580.61 551.45h7.44v1.28h-7.44zM588.05 551.45h7.44v1.54h-7.44zM595.49 551.45h7.44v4.61h-7.44zM602.93 551.45h7.44v2.94h-7.44zM632.71 551.45h7.44v6.53h-7.44zM647.59 551.45h7.44v6.53h-7.44zM722.02 551.45h7.44v1.92h-7.44zM729.47 551.45h7.44v3.33h-7.44zM736.91 551.45h7.44v4.61h-7.44zM744.35 551.45h7.44v1.92h-7.44zM751.79 551.45h7.44v4.61h-7.44zM878.32 551.45h7.44v0.51h-7.44zM893.21 551.45h7.44v1.92h-7.44zM908.10 551.45h7.44v2.43h-7.44zM915.54 551.45h7.44v2.56h-7.44zM922.98 551.45h7.44v2.94h-7.44zM930.42 551.45h7.44v12.80h-7.44zM937.87 551.45h7.44v11.90h-7.44zM945.31 551.45h7.44v128.00h-7.44zM952.75 551.45h7.44v128.00h-7.44zM960.20 551.45h7.44v128.00h-7.44zM967.64 551.45h7.44v128.00h-7.44zM975.08 551.45h7.44v128.00h-7.44zM982.53 551.45h7.44v128.00h-7.44zM989.97 551.45h7.44v128.00h-7.44zM997.41 551.45h7.44v128.00h-7.44zM1004.85 551.45h7.44v128.00h-7.44zM1012.30 551.45h7.44v1.41h-7.44zM1019.74 551.45h7.44v0.64h-7.44zM1027.18 551.45h7.44v0.64h-7.44zM1034.63 551.45h7.44v1.15h-7.44zM1042.07 551.45h7.44v2.69h-7.44zM1049.51 551.45h7.44v0.26h-7.44zM1056.95 551.45h7.44v1.66h-7.44zM1071.84 551.45h7.44v1.66h-7.44zM1086.73 551.45h7.44v0.64h-7.44zM1101.61 551.45h7.44v75.65h-7.44zM1109.06 551.45h7.44v50.82h-7.44zM1116.50 551.45h7.44v5.63h-7.44zM1131.38 551.45h7.44v85.38h-7.44zM1138.83 551.45h7.44v23.81h-7.44zM1146.27 551.45h7.44v33.92h-7.44zM1153.71 551.45h7.44v67.07h-7.44zM1161.16 551.45h7.44v59.14h-7.44zM1168.60 551.45h7.44v9.98h-7.44zM1176.04 551.45h7.44v13.44h-7.44zM1183.48 551.45h7.44v5.12h-7.44zM1190.93 551.45h7.44v46.21h-7.44zM1198.37 551.45h7.44v43.78h-7.44zM1205.81 551.45h7.44v5.12h-7.44zM1213.26 551.45h7.44v30.59h-7.44zM1220.70 551.45h7.44v5.12h-7.44zM1228.14 551.45h7.44v17.92h-7.44zM1235.59 551.45h7.44v18.05h-7.44zM1243.03 551.45h7.44v9.73h-7.44zM1250.47 551.45h7.44v6.91h-7.44zM1257.91 551.45h7.44v29.31h-7.44zM1265.36 551.45h7.44v64.13h-7.44z"/>
<path fill="#CAFF70" d="M602.93 560.03h7.44v1.41h-7.44zM655.04 551.45h7.44v128.00h-7.44zM662.48 551.45h7.44v128.00h-7.44zM669.92 551.45h7.44v128.00h-7.44zM677.36 562.97h7.44v116.48h-7.44zM684.81 563.74h7.44v115.71h-7.44zM692.25 564.38h7.44v115.07h-7.44zM699.69 565.40h7.44v114.05h-7.44zM707.14 566.30h7.44v113.15h-7.44zM714.58 567.32h7.44v112.13h-7.44zM722.02 576.28h7.44v103.17h-7.44zM729.47 585.24h7.44v92.93h-7.44zM736.91 587.16h7.44v92.29h-7.44zM744.35 586.78h7.44v92.67h-7.44zM751.79 586.78h7.44v92.67h-7.44zM856.00 678.94h7.44v0.51h-7.44zM863.44 678.68h7.44v0.77h-7.44zM870.88 678.17h7.44v1.28h-7.44zM878.32 676.89h7.44v2.56h-7.44zM885.77 675.61h7.44v3.84h-7.44zM893.21 676.25h7.44v3.20h-7.44zM900.65 672.54h7.44v6.91h-7.44zM908.10 674.33h7.44v5.12h-7.44zM915.54 674.33h7.44v5.12h-7.44zM922.98 674.33h7.44v5.12h-7.44zM930.42 659.23h7.44v17.79h-7.44zM937.87 654.11h7.44v20.35h-7.44zM1071.84 560.15h7.44v2.43h-7.44zM1086.73 570.14h7.44v28.67h-7.44zM1094.17 572.57h7.44v30.46h-7.44zM1101.61 652.57h7.44v12.93h-7.44zM1109.06 663.58h7.44v8.58h-7.44zM1123.94 595.99h7.44v72.96h-7.44zM1131.38 651.29h7.44v11.90h-7.44zM1138.83 602.39h7.44v15.49h-7.44zM1146.27 595.61h7.44v68.74h-7.44zM1153.71 660.51h7.44v10.75h-7.44zM1161.16 662.81h7.44v9.34h-7.44zM1168.60 583.07h7.44v74.88h-7.44zM1176.04 600.09h7.44v6.53h-7.44zM1183.48 599.19h7.44v76.67h-7.44zM1190.93 647.83h7.44v18.69h-7.44zM1198.37 648.35h7.44v19.33h-7.44zM1205.81 592.03h7.44v84.61h-7.44zM1213.26 652.57h7.44v19.20h-7.44zM1220.70 601.63h7.44v76.03h-7.44zM1228.14 609.56h7.44v61.18h-7.44zM1235.59 654.36h7.44v19.58h-7.44zM1243.03 594.71h7.44v81.41h-7.44zM1250.47 595.74h7.44v79.74h-7.44zM1257.91 655.26h7.44v17.92h-7.44zM1265.36 664.22h7.44v9.47h-7.44z"/>
<path fill="#008B00" d="M59.60 729.35h7.44v128.00h-7.44zM67.04 729.35h7.44v128.00h-7.44zM74.49 729.35h7.44v128.00h-7.44zM81.93 729.35h7.44v128.00h-7.44zM89.37 729.35h7.44v128.00h-7.44zM96.81 729.35h7.44v128.00h-7.44zM104.26 730.37h7.44v126.98h-7.44zM111.70 732.68h7.44v124.67h-7.44zM119.14 746.63h7.44v110.72h-7.44zM238.23 856.97h7.44v0.38h-7.44zM245.67 856.33h7.44v1.02h-7.44zM253.12 855.30h7.44v2.05h-7.44zM260.56 854.53h7.44v2.82h-7.44zM268.00 852.87h7.44v4.48h-7.44zM275.45 843.40h7.44v13.95h-7.44zM282.89 844.68h7.44v12.67h-7.44zM290.33 844.04h7.44v13.31h-7.44zM297.77 844.04h7.44v13.31h-7.44zM305.22 844.04h7.44v13.31h-7.44zM394.53 856.71h7.44v0.64h-7.44zM424.30 855.81h7.44v1.54h-7.44zM431.75 856.71h7.44v0.64h-7.44zM521.06 854.53h7.44v2.82h-7.44zM528.51 854.02h7.44v3.33h-7.44zM1012.30 780.17h7.44v77.18h-7.44zM1019.74 831.49h7.44v25.86h-7.44zM1027.18 839.43h7.44v17.92h-7.44zM1034.63 840.97h7.44v16.38h-7.44zM1042.07 842.89h7.44v14.46h-7.44zM1049.51 843.40h7.44v13.95h-7.44zM1056.95 844.93h7.44v12.42h-7.44zM1064.40 847.37h7.44v9.98h-7.44zM1071.84 849.93h7.44v7.42h-7.44zM1079.28 852.36h7.44v4.99h-7.44zM1086.73 855.81h7.44v1.54h-7.44z"/>
<path fill="#00EE00" d="M104.26 729.35h7.44v1.02h-7.44zM111.70 729.35h7.44v3.33h-7.44zM119.14 737.67h7.44v8.96h-7.44zM126.59 729.35h7.44v128.00h-7.44zM134.03 729.35h7.44v128.00h-7.44zM141.47 729.35h7.44v128.00h-7.44zM148.92 729.35h7.44v128.00h-7.44zM156.36 729.35h7.44v128.00h-7.44zM163.80 729.35h7.44v128.00h-7.44zM171.24 729.35h7.44v128.00h-7.44zM178.69 729.35h7.44v128.00h-7.44zM186.13 729.35h7.44v128.00h-7.44zM193.57 729.35h7.44v128.00h-7.44zM201.02 729.35h7.44v128.00h-7.44zM208.46 729.35h7.44v128.00h-7.44zM215.90 729.35h7.44v128.00h-7.44zM223.34 729.35h7.44v128.00h-7.44zM230.79 729.73h7.44v127.62h-7.44zM238.23 729.99h7.44v126.98h-7.44zM245.67 730.63h7.44v125.70h-7.44zM253.12 734.73h7.44v120.58h-7.44zM260.56 733.70h7.44v120.83h-7.44zM268.00 738.69h7.44v114.18h-7.44zM275.45 749.57h7.44v93.82h-7.44zM282.89 751.62h7.44v93.06h-7.44zM290.33 751.24h7.44v92.80h-7.44zM297.77 753.16h7.44v90.88h-7.44zM305.22 753.67h7.44v90.37h-7.44zM372.20 856.33h7.44v1.02h-7.44zM379.65 855.81h7.44v1.54h-7.44zM387.09 854.79h7.44v2.56h-7.44zM394.53 852.23h7.44v4.48h-7.44zM401.98 851.59h7.44v5.76h-7.44zM409.42 850.95h7.44v6.40h-7.44zM416.86 850.31h7.44v7.04h-7.44zM424.30 847.37h7.44v8.45h-7.44zM431.75 849.03h7.44v7.68h-7.44zM521.06 850.05h7.44v4.48h-7.44zM528.51 846.98h7.44v7.04h-7.44zM1012.30 762.25h7.44v17.92h-7.44zM1019.74 806.41h7.44v25.09h-7.44zM1027.18 797.83h7.44v41.60h-7.44zM1034.63 780.17h7.44v60.80h-7.44zM1042.07 798.09h7.44v44.80h-7.44zM1049.51 771.85h7.44v71.55h-7.44zM1056.95 779.65h7.44v65.28h-7.44zM1064.40 759.69h7.44v87.68h-7.44zM1071.84 828.93h7.44v20.99h-7.44zM1079.28 837.89h7.44v14.46h-7.44zM1086.73 845.45h7.44v10.37h-7.44zM1094.17 850.44h7.44v6.91h-7.44zM1116.50 851.33h7.44v6.02h-7.44zM1123.94 856.58h7.44v0.77h-7.44z"/>
<path fill="#7FFF00" d="M119.14 734.47h7.44v3.20h-7.44zM253.12 732.55h7.44v2.18h-7.44zM260.56 731.27h7.44v2.43h-7.44zM268.00 735.75h7.44v2.94h-7.44zM275.45 745.22h7.44v4.35h-7.44zM282.89 745.61h7.44v6.02h-7.44zM290.33 745.22h7.44v6.02h-7.44zM297.77 745.99h7.44v7.17h-7.44zM305.22 746.63h7.44v7.04h-7.44zM312.66 729.35h7.44v128.00h-7.44zM320.10 729.35h7.44v128.00h-7.44zM327.55 729.35h7.44v128.00h-7.44zM334.99 729.35h7.44v128.00h-7.44zM342.43 729.35h7.44v128.00h-7.44zM349.87 729.35h7.44v128.00h-7.44zM357.32 729.35h7.44v128.00h-7.44zM364.76 729.99h7.44v127.36h-7.44zM372.20 729.99h7.44v126.34h-7.44zM379.65 729.99h7.44v125.82h-7.44zM387.09 729.99h7.44v124.80h-7.44zM394.53 733.70h7.44v118.53h-7.44zM401.98 735.75h7.44v115.84h-7.44zM409.42 734.73h7.44v116.22h-7.44zM416.86 734.09h7.44v116.22h-7.44zM424.30 739.33h7.44v108.03h-7.44zM431.75 741.64h7.44v107.39h-7.44zM483.85 856.33h7.44v1.02h-7.44zM513.62 856.07h7.44v1.28h-7.44zM521.06 843.40h7.44v6.66h-7.44zM528.51 838.02h7.44v8.96h-7.44zM573.16 856.84h7.44v0.51h-7.44zM580.61 856.07h7.44v1.28h-7.44zM588.05 855.81h7.44v1.54h-7.44zM632.71 854.79h7.44v2.56h-7.44zM647.59 854.15h7.44v3.20h-7.44zM1012.30 751.75h7.44v10.50h-7.44zM1019.74 792.07h7.44v14.34h-7.44zM1027.18 772.23h7.44v25.60h-7.44zM1034.63 760.71h7.44v19.46h-7.44zM1042.07 772.23h7.44v25.86h-7.44zM1049.51 761.22h7.44v10.62h-7.44zM1056.95 764.17h7.44v15.49h-7.44zM1064.40 750.21h7.44v9.47h-7.44zM1071.84 780.68h7.44v48.26h-7.44zM1079.28 753.80h7.44v84.10h-7.44zM1086.73 827.01h7.44v18.43h-7.44zM1094.17 839.17h7.44v11.26h-7.44zM1101.61 855.56h7.44v1.79h-7.44zM1116.50 839.43h7.44v11.90h-7.44zM1123.94 853.13h7.44v3.46h-7.44zM1138.83 856.71h7.44v0.64h-7.44z"/>
<path fill="#ADFF2F" d="M119.14 731.91h7.44v2.56h-7.44zM253.12 731.27h7.44v1.28h-7.44zM268.00 731.78h7.44v3.97h-7.44zM275.45 738.69h7.44v6.53h-7.44zM282.89 739.33h7.44v6.27h-7.44zM290.33 738.69h7.44v6.53h-7.44zM297.77 738.31h7.44v7.68h-7.44zM305.22 738.69h7.44v7.94h-7.44zM439.19 729.35h7.44v128.00h-7.44zM446.63 729.35h7.44v128.00h-7.44zM454.08 729.35h7.44v128.00h-7.44zM461.52 729.35h7.44v128.00h-7.44zM1012.30 748.29h7.44v3.46h-7.44zM1019.74 749.83h7.44v42.24h-7.44zM1027.18 761.22h7.44v11.01h-7.44zM1034.63 753.54h7.44v7.17h-7.44zM1042.07 761.86h7.44v10.37h-7.44zM1049.51 739.85h7.44v21.38h-7.44zM1056.95 756.23h7.44v7.94h-7.44zM1064.40 743.30h7.44v6.91h-7.44zM1071.84 774.15h7.44v6.53h-7.44zM1079.28 748.55h7.44v5.25h-7.44zM1138.83 854.79h7.44v1.92h-7.44zM1146.27 853.51h7.44v3.84h-7.44zM1168.60 849.16h7.44v8.19h-7.44z"/>
<path fill="#FFFF00" d="M119.14 729.35h7.44v2.56h-7.44zM230.79 729.35h7.44v0.38h-7.44zM238.23 729.35h7.44v0.64h-7.44zM245.67 729.35h7.44v1.28h-7.44zM253.12 729.35h7.44v1.92h-7.44zM260.56 729.35h7.44v1.92h-7.44zM268.00 729.35h7.44v2.43h-7.44zM275.45 729.35h7.44v9.34h-7.44zM282.89 729.35h7.44v9.98h-7.44zM290.33 729.35h7.44v9.34h-7.44zM297.77 729.35h7.44v8.96h-7.44zM305.22 729.35h7.44v9.34h-7.44zM364.76 729.35h7.44v0.64h-7.44zM372.20 729.35h7.44v0.64h-7.44zM379.65 729.35h7.44v0.64h-7.44zM387.09 729.35h7.44v0.64h-7.44zM394.53 730.63h7.44v3.07h-7.44zM401.98 730.37h7.44v5.38h-7.44zM409.42 729.35h7.44v5.38h-7.44zM416.86 729.35h7.44v4.74h-7.44zM424.30 732.68h7.44v6.66h-7.44zM431.75 732.68h7.44v8.96h-7.44zM468.96 729.35h7.44v128.00h-7.44zM476.40 729.99h7.44v127.36h-7.44zM483.85 730.37h7.44v125.95h-7.44zM506.18 856.33h7.44v1.02h-7.44zM513.62 850.95h7.44v5.12h-7.44zM521.06 833.54h7.44v9.86h-7.44zM528.51 830.73h7.44v7.30h-7.44zM1012.30 739.85h7.44v8.45h-7.44zM1019.74 739.08h7.44v10.75h-7.44zM1027.18 748.93h7.44v12.29h-7.44zM1034.63 742.79h7.44v10.75h-7.44zM1042.07 751.24h7.44v10.62h-7.44zM1049.51 731.78h7.44v8.06h-7.44zM1056.95 747.53h7.44v8.70h-7.44zM1064.40 731.78h7.44v11.52h-7.44zM1071.84 758.92h7.44v15.23h-7.44zM1079.28 739.85h7.44v8.70h-7.44zM1086.73 823.43h7.44v3.58h-7.44zM1094.17 835.97h7.44v3.20h-7.44zM1116.50 836.61h7.44v2.82h-7.44z"/>
<path fill="#FFA500" d="M394.53 729.35h7.44v1.28h-7.44zM424.30 729.35h7.44v3.33h-7.44zM431.75 729.35h7.44v2.43h-7.44zM521.06 735.75h7.44v4.35h-7.44zM528.51 736.13h7.44v4.99h-7.44zM535.95 729.35h7.44v128.00h-7.44zM543.39 729.35h7.44v128.00h-7.44zM550.83 729.35h7.44v128.00h-7.44zM558.28 729.35h7.44v128.00h-7.44zM565.72 729.35h7.44v128.00h-7.44zM573.16 729.86h7.44v126.98h-7.44zM580.61 730.63h7.44v125.44h-7.44zM588.05 730.89h7.44v124.93h-7.44zM595.49 739.33h7.44v116.99h-7.44zM602.93 739.33h7.44v115.71h-7.44zM610.38 751.75h7.44v105.60h-7.44zM617.82 752.13h7.44v105.22h-7.44zM625.26 752.77h7.44v104.58h-7.44zM632.71 745.61h7.44v106.75h-7.44zM640.15 752.52h7.44v104.83h-7.44zM647.59 747.27h7.44v103.68h-7.44zM729.47 856.07h7.44v1.28h-7.44zM930.42 854.92h7.44v2.43h-7.44zM937.87 852.36h7.44v4.99h-7.44zM1012.30 732.81h7.44v3.97h-7.44zM1019.74 729.86h7.44v2.94h-7.44zM1027.18 734.34h7.44v5.50h-7.44zM1034.63 733.32h7.44v4.48h-7.44zM1042.07 737.80h7.44v4.48h-7.44zM1049.51 729.35h7.44v1.02h-7.44zM1056.95 735.88h7.44v5.38h-7.44zM1071.84 739.33h7.44v11.39h-7.44zM1079.28 730.37h7.44v5.89h-7.44zM1086.73 776.71h7.44v46.72h-7.44zM1094.17 781.19h7.44v54.78h-7.44zM1101.61 843.40h7.44v12.16h-7.44zM1109.06 850.05h7.44v7.30h-7.44zM1116.50 756.49h7.44v78.46h-7.44zM1123.94 846.85h7.44v4.48h-7.44zM1131.38 841.09h7.44v16.26h-7.44zM1138.83 795.78h7.44v51.58h-7.44zM1146.27 842.25h7.44v11.26h-7.44zM1153.71 849.16h7.44v8.19h-7.44zM1161.16 850.05h7.44v7.30h-7.44zM1168.60 835.85h7.44v10.50h-7.44zM1176.04 784.52h7.44v68.99h-7.44zM1183.48 853.77h7.44v3.58h-7.44zM1190.93 844.42h7.44v12.93h-7.44zM1198.37 845.57h7.44v11.78h-7.44zM1205.81 854.53h7.44v2.82h-7.44zM1213.26 849.67h7.44v7.68h-7.44zM1220.70 855.56h7.44v1.79h-7.44zM1228.14 848.65h7.44v8.70h-7.44zM1235.59 851.85h7.44v5.50h-7.44zM1243.03 854.02h7.44v3.33h-7.44zM1250.47 853.38h7.44v3.97h-7.44zM1257.91 851.08h7.44v6.27h-7.44zM1265.36 851.59h7.44v5.76h-7.44z"/>
<path fill="#ADD8E6" d="M401.98 729.35h7.44v1.02h-7.44zM431.75 731.78h7.44v0.90h-7.44zM476.40 729.35h7.44v0.64h-7.44zM491.29 729.35h7.44v128.00h-7.44zM498.73 729.35h7.44v128.00h-7.44zM506.18 733.32h7.44v123.01h-7.44zM513.62 734.73h7.44v116.22h-7.44zM521.06 740.10h7.44v93.44h-7.44zM528.51 741.13h7.44v89.60h-7.44zM595.49 856.33h7.44v1.02h-7.44zM602.93 855.05h7.44v2.30h-7.44zM632.71 852.36h7.44v2.43h-7.44zM647.59 850.95h7.44v3.20h-7.44zM1012.30 736.77h7.44v3.07h-7.44zM1019.74 732.81h7.44v6.27h-7.44zM1027.18 739.85h7.44v9.09h-7.44zM1034.63 737.80h7.44v4.99h-7.44zM1042.07 742.28h7.44v8.96h-7.44zM1049.51 730.37h7.44v1.41h-7.44zM1056.95 741.25h7.44v6.27h-7.44zM1064.40 729.99h7.44v1.79h-7.44zM1071.84 750.73h7.44v8.19h-7.44zM1079.28 736.26h7.44v3.58h-7.44zM1116.50 834.95h7.44v1.66h-7.44zM1123.94 851.33h7.44v1.79h-7.44zM1138.83 847.37h7.44v7.42h-7.44zM1168.60 846.34h7.44v2.82h-7.44zM1176.04 853.51h7.44v3.84h-7.44z"/>
<path fill="#FF0000" d="M483.85 729.35h7.44v1.02h-7.44zM595.49 733.96h7.44v5.38h-7.44zM602.93 732.29h7.44v5.63h-7.44zM610.38 729.35h7.44v22.40h-7.44zM617.82 729.35h7.44v22.78h-7.44zM625.26 729.35h7.44v23.42h-7.44zM632.71 735.88h7.44v9.73h-7.44zM640.15 729.35h7.44v23.17h-7.44zM647.59 735.88h7.44v11.39h-7.44zM677.36 729.35h7.44v11.52h-7.44zM684.81 729.35h7.44v12.29h-7.44zM692.25 729.35h7.44v12.93h-7.44zM699.69 729.35h7.44v13.95h-7.44zM707.14 729.35h7.44v14.85h-7.44zM714.58 729.35h7.44v15.87h-7.44zM722.02 731.27h7.44v22.91h-7.44zM729.47 732.68h7.44v30.46h-7.44zM736.91 733.96h7.44v31.10h-7.44zM744.35 731.27h7.44v33.41h-7.44zM751.79 733.96h7.44v30.72h-7.44zM759.24 729.35h7.44v128.00h-7.44zM766.68 729.35h7.44v128.00h-7.44zM774.12 729.35h7.44v128.00h-7.44zM781.57 729.35h7.44v128.00h-7.44zM789.01 729.35h7.44v128.00h-7.44zM796.45 729.35h7.44v128.00h-7.44zM803.89 729.35h7.44v128.00h-7.44zM811.34 729.35h7.44v128.00h-7.44zM818.78 729.35h7.44v128.00h-7.44zM826.22 729.35h7.44v128.00h-7.44zM833.67 729.35h7.44v128.00h-7.44zM841.11 729.35h7.44v128.00h-7.44zM848.55 729.35h7.44v128.00h-7.44zM856.00 729.35h7.44v127.49h-7.44zM863.44 729.35h7.44v127.23h-7.44zM870.88 729.35h7.44v126.72h-7.44zM878.32 729.86h7.44v124.93h-7.44zM885.77 729.35h7.44v124.16h-7.44zM893.21 731.27h7.44v122.88h-7.44zM900.65 729.35h7.44v121.09h-7.44zM908.10 731.78h7.44v120.45h-7.44zM915.54 731.91h7.44v120.32h-7.44zM922.98 732.29h7.44v119.94h-7.44zM930.42 742.15h7.44v94.98h-7.44zM937.87 741.25h7.44v90.75h-7.44zM1012.30 730.89h7.44v1.92h-7.44zM1027.18 729.86h7.44v4.48h-7.44zM1034.63 730.37h7.44v2.94h-7.44zM1042.07 731.78h7.44v6.02h-7.44zM1056.95 730.89h7.44v4.99h-7.44zM1064.40 729.35h7.44v0.64h-7.44zM1071.84 730.89h7.44v5.76h-7.44zM1079.28 729.35h7.44v1.02h-7.44zM1086.73 730.37h7.44v17.92h-7.44zM1094.17 729.35h7.44v20.86h-7.44zM1101.61 805.00h7.44v25.47h-7.44zM1109.06 780.17h7.44v61.31h-7.44zM1116.50 734.60h7.44v21.89h-7.44zM1123.94 729.35h7.44v44.54h-7.44zM1131.38 814.73h7.44v14.46h-7.44zM1138.83 753.16h7.44v27.14h-7.44zM1146.27 763.27h7.44v10.24h-7.44zM1153.71 796.42h7.44v41.98h-7.44zM1161.16 788.49h7.44v52.22h-7.44zM1168.60 739.33h7.44v21.63h-7.44zM1176.04 742.79h7.44v35.20h-7.44zM1183.48 734.47h7.44v42.62h-7.44zM1190.93 775.56h7.44v50.18h-7.44zM1198.37 773.13h7.44v53.12h-7.44zM1205.81 734.47h7.44v35.46h-7.44zM1213.26 759.94h7.44v70.53h-7.44zM1220.70 734.47h7.44v45.06h-7.44zM1228.14 747.27h7.44v40.19h-7.44zM1235.59 747.40h7.44v84.86h-7.44zM1243.03 739.08h7.44v33.54h-7.44zM1250.47 736.26h7.44v37.38h-7.44zM1257.91 758.66h7.44v74.50h-7.44zM1265.36 793.48h7.44v48.64h-7.44z"/>
<path fill="#0000FF" d="M506.18 729.35h7.44v3.97h-7.44zM513.62 729.35h7.44v5.38h-7.44zM521.06 729.35h7.44v6.40h-7.44zM528.51 729.35h7.44v6.78h-7.44zM573.16 729.35h7.44v0.51h-7.44zM580.61 729.35h7.44v1.28h-7.44zM588.05 729.35h7.44v1.54h-7.44zM595.49 729.35h7.44v4.61h-7.44zM602.93 729.35h7.44v2.94h-7.44zM632.71 729.35h7.44v6.53h-7.44zM647.59 729.35h7.44v6.53h-7.44zM722.02 729.35h7.44v1.92h-7.44zM729.47 729.35h7.44v3.33h-7.44zM736.91 729.35h7.44v4.61h-7.44zM744.35 729.35h7.44v1.92h-7.44zM751.79 729.35h7.44v4.61h-7.44zM878.32 729.35h7.44v0.51h-7.44zM893.21 729.35h7.44v1.92h-7.44zM908.10 729.35h7.44v2.43h-7.44zM915.54 729.35h7.44v2.56h-7.44zM922.98 729.35h7.44v2.94h-7.44zM930.42 729.35h7.44v12.80h-7.44zM937.87 729.35h7.44v11.90h-7.44zM945.31 729.35h7.44v128.00h-7.44zM952.75 729.35h7.44v128.00h-7.44zM960.20 729.35h7.44v128.00h-7.44zM967.64 729.35h7.44v128.00h-7.44zM975.08 729.35h7.44v128.00h-7.44zM982.53 729.35h7.44v128.00h-7.44zM989.97 729.35h7.44v128.00h-7.44zM997.41 729.35h7.44v128.00h-7.44zM1004.85 729.35h7.44v128.00h-7.44zM1012.30 729.35h7.44v1.54h-7.44zM1019.74 729.35h7.44v0.51h-7.44zM1027.18 729.35h7.44v0.51h-7.44zM1034.63 729.35h7.44v1.02h-7.44zM1042.07 729.35h7.44v2.43h-7.44zM1056.95 729.35h7.44v1.54h-7.44zM1071.84 729.35h7.44v1.54h-7.44zM1086.73 729.35h7.44v1.02h-7.44zM1101.61 729.35h7.44v75.65h-7.44zM1109.06 729.35h7.44v50.82h-7.44zM1116.50 729.35h7.44v5.25h-7.44zM1131.38 729.35h7.44v85.38h-7.44zM1138.83 729.35h7.44v23.81h-7.44zM1146.27 729.35h7.44v33.92h-7.44zM1153.71 729.35h7.44v67.07h-7.44zM1161.16 729.35h7.44v59.14h-7.44zM1168.60 729.35h7.44v9.98h-7.44zM1176.04 729.35h7.44v13.44h-7.44zM1183.48 729.35h7.44v5.12h-7.44zM1190.93 729.35h7.44v46.21h-7.44zM1198.37 729.35h7.44v43.78h-7.44zM1205.81 729.35h7.44v5.12h-7.44zM1213.26 729.35h7.44v30.59h-7.44zM1220.70 729.35h7.44v5.12h-7.44zM1228.14 729.35h7.44v17.92h-7.44zM1235.59 729.35h7.44v18.05h-7.44zM1243.03 729.35h7.44v9.73h-7.44zM1250.47 729.35h7.44v6.91h-7.44zM1257.91 729.35h7.44v29.31h-7.44zM1265.36 729.35h7.44v64.13h-7.44z"/>
<path fill="#CAFF70" d="M602.93 737.93h7.44v1.41h-7.44zM655.04 729.35h7.44v128.00h-7.44zM662.48 729.35h7.44v128.00h-7.44zM669.92 729.35h7.44v128.00h-7.44zM677.36 740.87h7.44v116.48h-7.44zM684.81 741.64h7.44v115.71h-7.44zM692.25 742.28h7.44v115.07h-7.44zM699.69 743.30h7.44v114.05h-7.44zM707.14 744.20h7.44v113.15h-7.44zM714.58 745.22h7.44v112.13h-7.44zM722.02 754.18h7.44v103.17h-7.44zM729.47 763.14h7.44v92.93h-7.44zM736.91 765.06h7.44v92.29h-7.44zM744.35 764.68h7.44v92.67h-7.44zM751.79 764.68h7.44v92.67h-7.44zM856.00 856.84h7.44v0.51h-7.44zM863.44 856.58h7.44v0.77h-7.44zM870.88 856.07h7.44v1.28h-7.44zM878.32 854.79h7.44v2.56h-7.44zM885.77 853.51h7.44v3.84h-7.44zM893.21 854.15h7.44v3.20h-7.44zM900.65 850.44h7.44v6.91h-7.44zM908.10 852.23h7.44v5.12h-7.44zM915.54 852.23h7.44v5.12h-7.44zM922.98 852.23h7.44v5.12h-7.44zM930.42 837.13h7.44v17.79h-7.44zM937.87 832.01h7.44v20.35h-7.44zM1071.84 736.65h7.44v2.69h-7.44zM1086.73 748.29h7.44v28.42h-7.44zM1094.17 750.21h7.44v30.98h-7.44zM1101.61 830.47h7.44v12.93h-7.44zM1109.06 841.48h7.44v8.58h-7.44zM1123.94 773.89h7.44v72.96h-7.44zM1131.38 829.19h7.44v11.90h-7.44zM1138.83 780.29h7.44v15.49h-7.44zM1146.27 773.51h7.44v68.74h-7.44zM1153.71 838.41h7.44v10.75h-7.44zM1161.16 840.71h7.44v9.34h-7.44zM1168.60 760.97h7.44v74.88h-7.44zM1176.04 777.99h7.44v6.53h-7.44zM1183.48 777.09h7.44v76.67h-7.44zM1190.93 825.73h7.44v18.69h-7.44zM1198.37 826.25h7.44v19.33h-7.44zM1205.81 769.93h7.44v84.61h-7.44zM1213.26 830.47h7.44v19.20h-7.44zM1220.70 779.53h7.44v76.03h-7.44zM1228.14 787.46h7.44v61.18h-7.44zM1235.59 832.26h7.44v19.58h-7.44zM1243.03 772.61h7.44v81.41h-7.44zM1250.47 773.64h7.44v79.74h-7.44zM1257.91 833.16h7.44v17.92h-7.44zM1265.36 842.12h7.44v9.47h-7.44z"/>
</g>
<path transform="translate(0,16.80)" d="M67.04 0v128.0M74.49 0v128.0M81.93 0v128.0M89.37 0v128.0M96.81 0v128.0M104.26 0v128.0M111.70 0v128.0M119.14 0v128.0M126.59 0v128.0M134.03 0v128.0M141.47 0v128.0M148.92 0v128.0M156.36 0v128.0M163.80 0v128.0M171.24 0v128.0M178.69 0v128.0M186.13 0v128.0M193.57 0v128.0M201.02 0v128.0M208.46 0v128.0M215.90 0v128.0M223.34 0v128.0M230.79 0v128.0M238.23 0v128.0M245.67 0v128.0M253.12 0v128.0M260.56 0v128.0M268.00 0v128.0M275.45 0v128.0M282.89 0v128.0M290.33 0v128.0M297.77 0v128.0M305.22 0v128.0M312.66 0v128.0M320.10 0v128.0M327.55 0v128.0M334.99 0v128.0M342.43 0v128.0M349.87 0v128.0M357.32 0v128.0M364.76 0v128.0M372.20 0v128.0M379.65 0v128.0M387.09 0v128.0M394.53 0v128.0M401.98 0v128.0M409.42 0v128.0M416.86 0v128.0M424.30 0v128.0M431.75 0v128.0M439.19 0v128.0M446.63 0v128.0M454.08 0v128.0M461.52 0v128.0M468.96 0v128.0M476.40 0v128.0M483.85 0v128.0M491.29 0v128.0M498.73 0v128.0M506.18 0v128.0M513.62 0v128.0M521.06 0v128.0M528.51 0v128.0M535.95 0v128.0M543.39 0v128.0M550.83 0v128.0M558.28 0v128.0M565.72 0v128.0M573.16 0v128.0M580.61 0v128.0M588.05 0v128.0M595.49 0v128.0M602.93 0v128.0M610.38 0v128.0M617.82 0v128.0M625.26 0v128.0M632.71 0v128.0M640.15 0v128.0M647.59 0v128.0M655.04 0v128.0M662.48 0v128.0M669.92 0v128.0M677.36 0v128.0M684.81 0v128.0M692.25 0v128.0M699.69 0v128.0M707.14 0v128.0M714.58 0v128.0M722.02 0v128.0M729.47 0v128.0M736.91 0v128.0M744.35 0v128.0M751.79 0v128.0M759.24 0v128.0M766.68 0v128.0M774.12 0v128.0M781.57 0v128.0M789.01 0v128.0M796.45 0v128.0M803.89 0v128.0M811.34 0v128.0M818.78 0v128.0M826.22 0v128.0M833.67 0v128.0M841.11 0v128.0M848.55 0v128.0M856.00 0v128.0M863.44 0v128.0M870.88 0v128.0M878.32 0v128.0M885.77 0v128.0M893.21 0v128.0M900.65 0v128.0M908.10 0v128.0M915.54 0v128.0M922.98 0v128.0M930.42 0v128.0M937.87 0v128.0M945.31 0v128.0M952.75 0v128.0M960.20 0v128.0M967.64 0v128.0M975.08 0v128.0M982.53 0v128.0M989.97 0v128.0M997.41 0v128.0M1004.85 0v128.0M1012.30 0v128.0M1019.74 0v128.0M1027.18 0v128.0M1034.63 0v128.0M1042.07 0v128.0M1049.51 0v128.0M1056.95 0v128.0M1064.40 0v128.0M1071.84 0v128.0M1079.28 0v128.0M1086.73 0v128.0M1094.17 0v128.0M1101.61 0v128.0M1109.06 0v128.0M1116.50 0v128.0M1123.94 0v128.0M1131.38 0v128.0M1138.83 0v128.0M1146.27 0v128.0M1153.71 0v128.0M1161.16 0v128.0M1168.60 0v128.0M1176.04 0v128.0M1183.48 0v128.0M1190.93 0v128.0M1198.37 0v128.0M1205.81 0v128.0M1213.26 0v128.0M1220.70 0v128.0M1228.14 0v128.0M1235.59 0v128.0M1243.03 0v128.0M1250.47 0v128.0M1257.91 0v128.0M1265.36 0v128.0" stroke="#fff" stroke-opacity="0.09" stroke-width="0.9" fill="none"/>
<path transform="translate(0,195.00)" d="M67.04 0v128.0M74.49 0v128.0M81.93 0v128.0M89.37 0v128.0M96.81 0v128.0M104.26 0v128.0M111.70 0v128.0M119.14 0v128.0M126.59 0v128.0M134.03 0v128.0M141.47 0v128.0M148.92 0v128.0M156.36 0v128.0M163.80 0v128.0M171.24 0v128.0M178.69 0v128.0M186.13 0v128.0M193.57 0v128.0M201.02 0v128.0M208.46 0v128.0M215.90 0v128.0M223.34 0v128.0M230.79 0v128.0M238.23 0v128.0M245.67 0v128.0M253.12 0v128.0M260.56 0v128.0M268.00 0v128.0M275.45 0v128.0M282.89 0v128.0M290.33 0v128.0M297.77 0v128.0M305.22 0v128.0M312.66 0v128.0M320.10 0v128.0M327.55 0v128.0M334.99 0v128.0M342.43 0v128.0M349.87 0v128.0M357.32 0v128.0M364.76 0v128.0M372.20 0v128.0M379.65 0v128.0M387.09 0v128.0M394.53 0v128.0M401.98 0v128.0M409.42 0v128.0M416.86 0v128.0M424.30 0v128.0M431.75 0v128.0M439.19 0v128.0M446.63 0v128.0M454.08 0v128.0M461.52 0v128.0M468.96 0v128.0M476.40 0v128.0M483.85 0v128.0M491.29 0v128.0M498.73 0v128.0M506.18 0v128.0M513.62 0v128.0M521.06 0v128.0M528.51 0v128.0M535.95 0v128.0M543.39 0v128.0M550.83 0v128.0M558.28 0v128.0M565.72 0v128.0M573.16 0v128.0M580.61 0v128.0M588.05 0v128.0M595.49 0v128.0M602.93 0v128.0M610.38 0v128.0M617.82 0v128.0M625.26 0v128.0M632.71 0v128.0M640.15 0v128.0M647.59 0v128.0M655.04 0v128.0M662.48 0v128.0M669.92 0v128.0M677.36 0v128.0M684.81 0v128.0M692.25 0v128.0M699.69 0v128.0M707.14 0v128.0M714.58 0v128.0M722.02 0v128.0M729.47 0v128.0M736.91 0v128.0M744.35 0v128.0M751.79 0v128.0M759.24 0v128.0M766.68 0v128.0M774.12 0v128.0M781.57 0v128.0M789.01 0v128.0M796.45 0v128.0M803.89 0v128.0M811.34 0v128.0M818.78 0v128.0M826.22 0v128.0M833.67 0v128.0M841.11 0v128.0M848.55 0v128.0M856.00 0v128.0M863.44 0v128.0M870.88 0v128.0M878.32 0v128.0M885.77 0v128.0M893.21 0v128.0M900.65 0v128.0M908.10 0v128.0M915.54 0v128.0M922.98 0v128.0M930.42 0v128.0M937.87 0v128.0M945.31 0v128.0M952.75 0v128.0M960.20 0v128.0M967.64 0v128.0M975.08 0v128.0M982.53 0v128.0M989.97 0v128.0M997.41 0v128.0M1004.85 0v128.0M1012.30 0v128.0M1019.74 0v128.0M1027.18 0v128.0M1034.63 0v128.0M1042.07 0v128.0M1049.51 0v128.0M1056.95 0v128.0M1064.40 0v128.0M1071.84 0v128.0M1079.28 0v128.0M1086.73 0v128.0M1094.17 0v128.0M1101.61 0v128.0M1109.06 0v128.0M1116.50 0v128.0M1123.94 0v128.0M1131.38 0v128.0M1138.83 0v128.0M1146.27 0v128.0M1153.71 0v128.0M1161.16 0v128.0M1168.60 0v128.0M1176.04 0v128.0M1183.48 0v128.0M1190.93 0v128.0M1198.37 0v128.0M1205.81 0v128.0M1213.26 0v128.0M1220.70 0v128.0M1228.14 0v128.0M1235.59 0v128.0M1243.03 0v128.0M1250.47 0v128.0M1257.91 0v128.0M1265.36 0v128.0" stroke="#fff" stroke-opacity="0.09" stroke-width="0.9" fill="none"/>
<path transform="translate(0,373.15)" d="M67.04 0v128.0M74.49 0v128.0M81.93 0v128.0M89.37 0v128.0M96.81 0v128.0M104.26 0v128.0M111.70 0v128.0M119.14 0v128.0M126.59 0v128.0M134.03 0v128.0M141.47 0v128.0M148.92 0v128.0M156.36 0v128.0M163.80 0v128.0M171.24 0v128.0M178.69 0v128.0M186.13 0v128.0M193.57 0v128.0M201.02 0v128.0M208.46 0v128.0M215.90 0v128.0M223.34 0v128.0M230.79 0v128.0M238.23 0v128.0M245.67 0v128.0M253.12 0v128.0M260.56 0v128.0M268.00 0v128.0M275.45 0v128.0M282.89 0v128.0M290.33 0v128.0M297.77 0v128.0M305.22 0v128.0M312.66 0v128.0M320.10 0v128.0M327.55 0v128.0M334.99 0v128.0M342.43 0v128.0M349.87 0v128.0M357.32 0v128.0M364.76 0v128.0M372.20 0v128.0M379.65 0v128.0M387.09 0v128.0M394.53 0v128.0M401.98 0v128.0M409.42 0v128.0M416.86 0v128.0M424.30 0v128.0M431.75 0v128.0M439.19 0v128.0M446.63 0v128.0M454.08 0v128.0M461.52 0v128.0M468.96 0v128.0M476.40 0v128.0M483.85 0v128.0M491.29 0v128.0M498.73 0v128.0M506.18 0v128.0M513.62 0v128.0M521.06 0v128.0M528.51 0v128.0M535.95 0v128.0M543.39 0v128.0M550.83 0v128.0M558.28 0v128.0M565.72 0v128.0M573.16 0v128.0M580.61 0v128.0M588.05 0v128.0M595.49 0v128.0M602.93 0v128.0M610.38 0v128.0M617.82 0v128.0M625.26 0v128.0M632.71 0v128.0M640.15 0v128.0M647.59 0v128.0M655.04 0v128.0M662.48 0v128.0M669.92 0v128.0M677.36 0v128.0M684.81 0v128.0M692.25 0v128.0M699.69 0v128.0M707.14 0v128.0M714.58 0v128.0M722.02 0v128.0M729.47 0v128.0M736.91 0v128.0M744.35 0v128.0M751.79 0v128.0M759.24 0v128.0M766.68 0v128.0M774.12 0v128.0M781.57 0v128.0M789.01 0v128.0M796.45 0v128.0M803.89 0v128.0M811.34 0v128.0M818.78 0v128.0M826.22 0v128.0M833.67 0v128.0M841.11 0v128.0M848.55 0v128.0M856.00 0v128.0M863.44 0v128.0M870.88 0v128.0M878.32 0v128.0M885.77 0v128.0M893.21 0v128.0M900.65 0v128.0M908.10 0v128.0M915.54 0v128.0M922.98 0v128.0M930.42 0v128.0M937.87 0v128.0M945.31 0v128.0M952.75 0v128.0M960.20 0v128.0M967.64 0v128.0M975.08 0v128.0M982.53 0v128.0M989.97 0v128.0M997.41 0v128.0M1004.85 0v128.0M1012.30 0v128.0M1019.74 0v128.0M1027.18 0v128.0M1034.63 0v128.0M1042.07 0v128.0M1049.51 0v128.0M1056.95 0v128.0M1064.40 0v128.0M1071.84 0v128.0M1079.28 0v128.0M1086.73 0v128.0M1094.17 0v128.0M1101.61 0v128.0M1109.06 0v128.0M1116.50 0v128.0M1123.94 0v128.0M1131.38 0v128.0M1138.83 0v128.0M1146.27 0v128.0M1153.71 0v128.0M1161.16 0v128.0M1168.60 0v128.0M1176.04 0v128.0M1183.48 0v128.0M1190.93 0v128.0M1198.37 0v128.0M1205.81 0v128.0M1213.26 0v128.0M1220.70 0v128.0M1228.14 0v128.0M1235.59 0v128.0M1243.03 0v128.0M1250.47 0v128.0M1257.91 0v128.0M1265.36 0v128.0" stroke="#fff" stroke-opacity="0.09" stroke-width="0.9" fill="none"/>
<path transform="translate(0,551.45)" d="M67.04 0v128.0M74.49 0v128.0M81.93 0v128.0M89.37 0v128.0M96.81 0v128.0M104.26 0v128.0M111.70 0v128.0M119.14 0v128.0M126.59 0v128.0M134.03 0v128.0M141.47 0v128.0M148.92 0v128.0M156.36 0v128.0M163.80 0v128.0M171.24 0v128.0M178.69 0v128.0M186.13 0v128.0M193.57 0v128.0M201.02 0v128.0M208.46 0v128.0M215.90 0v128.0M223.34 0v128.0M230.79 0v128.0M238.23 0v128.0M245.67 0v128.0M253.12 0v128.0M260.56 0v128.0M268.00 0v128.0M275.45 0v128.0M282.89 0v128.0M290.33 0v128.0M297.77 0v128.0M305.22 0v128.0M312.66 0v128.0M320.10 0v128.0M327.55 0v128.0M334.99 0v128.0M342.43 0v128.0M349.87 0v128.0M357.32 0v128.0M364.76 0v128.0M372.20 0v128.0M379.65 0v128.0M387.09 0v128.0M394.53 0v128.0M401.98 0v128.0M409.42 0v128.0M416.86 0v128.0M424.30 0v128.0M431.75 0v128.0M439.19 0v128.0M446.63 0v128.0M454.08 0v128.0M461.52 0v128.0M468.96 0v128.0M476.40 0v128.0M483.85 0v128.0M491.29 0v128.0M498.73 0v128.0M506.18 0v128.0M513.62 0v128.0M521.06 0v128.0M528.51 0v128.0M535.95 0v128.0M543.39 0v128.0M550.83 0v128.0M558.28 0v128.0M565.72 0v128.0M573.16 0v128.0M580.61 0v128.0M588.05 0v128.0M595.49 0v128.0M602.93 0v128.0M610.38 0v128.0M617.82 0v128.0M625.26 0v128.0M632.71 0v128.0M640.15 0v128.0M647.59 0v128.0M655.04 0v128.0M662.48 0v128.0M669.92 0v128.0M677.36 0v128.0M684.81 0v128.0M692.25 0v128.0M699.69 0v128.0M707.14 0v128.0M714.58 0v128.0M722.02 0v128.0M729.47 0v128.0M736.91 0v128.0M744.35 0v128.0M751.79 0v128.0M759.24 0v128.0M766.68 0v128.0M774.12 0v128.0M781.57 0v128.0M789.01 0v128.0M796.45 0v128.0M803.89 0v128.0M811.34 0v128.0M818.78 0v128.0M826.22 0v128.0M833.67 0v128.0M841.11 0v128.0M848.55 0v128.0M856.00 0v128.0M863.44 0v128.0M870.88 0v128.0M878.32 0v128.0M885.77 0v128.0M893.21 0v128.0M900.65 0v128.0M908.10 0v128.0M915.54 0v128.0M922.98 0v128.0M930.42 0v128.0M937.87 0v128.0M945.31 0v128.0M952.75 0v128.0M960.20 0v128.0M967.64 0v128.0M975.08 0v128.0M982.53 0v128.0M989.97 0v128.0M997.41 0v128.0M1004.85 0v128.0M1012.30 0v128.0M1019.74 0v128.0M1027.18 0v128.0M1034.63 0v128.0M1042.07 0v128.0M1049.51 0v128.0M1056.95 0v128.0M1064.40 0v128.0M1071.84 0v128.0M1079.28 0v128.0M1086.73 0v128.0M1094.17 0v128.0M1101.61 0v128.0M1109.06 0v128.0M1116.50 0v128.0M1123.94 0v128.0M1131.38 0v128.0M1138.83 0v128.0M1146.27 0v128.0M1153.71 0v128.0M1161.16 0v128.0M1168.60 0v128.0M1176.04 0v128.0M1183.48 0v128.0M1190.93 0v128.0M1198.37 0v128.0M1205.81 0v128.0M1213.26 0v128.0M1220.70 0v128.0M1228.14 0v128.0M1235.59 0v128.0M1243.03 0v128.0M1250.47 0v128.0M1257.91 0v128.0M1265.36 0v128.0" stroke="#fff" stroke-opacity="0.09" stroke-width="0.9" fill="none"/>
<path transform="translate(0,729.35)" d="M67.04 0v128.0M74.49 0v128.0M81.93 0v128.0M89.37 0v128.0M96.81 0v128.0M104.26 0v128.0M111.70 0v128.0M119.14 0v128.0M126.59 0v128.0M134.03 0v128.0M141.47 0v128.0M148.92 0v128.0M156.36 0v128.0M163.80 0v128.0M171.24 0v128.0M178.69 0v128.0M186.13 0v128.0M193.57 0v128.0M201.02 0v128.0M208.46 0v128.0M215.90 0v128.0M223.34 0v128.0M230.79 0v128.0M238.23 0v128.0M245.67 0v128.0M253.12 0v128.0M260.56 0v128.0M268.00 0v128.0M275.45 0v128.0M282.89 0v128.0M290.33 0v128.0M297.77 0v128.0M305.22 0v128.0M312.66 0v128.0M320.10 0v128.0M327.55 0v128.0M334.99 0v128.0M342.43 0v128.0M349.87 0v128.0M357.32 0v128.0M364.76 0v128.0M372.20 0v128.0M379.65 0v128.0M387.09 0v128.0M394.53 0v128.0M401.98 0v128.0M409.42 0v128.0M416.86 0v128.0M424.30 0v128.0M431.75 0v128.0M439.19 0v128.0M446.63 0v128.0M454.08 0v128.0M461.52 0v128.0M468.96 0v128.0M476.40 0v128.0M483.85 0v128.0M491.29 0v128.0M498.73 0v128.0M506.18 0v128.0M513.62 0v128.0M521.06 0v128.0M528.51 0v128.0M535.95 0v128.0M543.39 0v128.0M550.83 0v128.0M558.28 0v128.0M565.72 0v128.0M573.16 0v128.0M580.61 0v128.0M588.05 0v128.0M595.49 0v128.0M602.93 0v128.0M610.38 0v128.0M617.82 0v128.0M625.26 0v128.0M632.71 0v128.0M640.15 0v128.0M647.59 0v128.0M655.04 0v128.0M662.48 0v128.0M669.92 0v128.0M677.36 0v128.0M684.81 0v128.0M692.25 0v128.0M699.69 0v128.0M707.14 0v128.0M714.58 0v128.0M722.02 0v128.0M729.47 0v128.0M736.91 0v128.0M744.35 0v128.0M751.79 0v128.0M759.24 0v128.0M766.68 0v128.0M774.12 0v128.0M781.57 0v128.0M789.01 0v128.0M796.45 0v128.0M803.89 0v128.0M811.34 0v128.0M818.78 0v128.0M826.22 0v128.0M833.67 0v128.0M841.11 0v128.0M848.55 0v128.0M856.00 0v128.0M863.44 0v128.0M870.88 0v128.0M878.32 0v128.0M885.77 0v128.0M893.21 0v128.0M900.65 0v128.0M908.10 0v128.0M915.54 0v128.0M922.98 0v128.0M930.42 0v128.0M937.87 0v128.0M945.31 0v128.0M952.75 0v128.0M960.20 0v128.0M967.64 0v128.0M975.08 0v128.0M982.53 0v128.0M989.97 0v128.0M997.41 0v128.0M1004.85 0v128.0M1012.30 0v128.0M1019.74 0v128.0M1027.18 0v128.0M1034.63 0v128.0M1042.07 0v128.0M1049.51 0v128.0M1056.95 0v128.0M1064.40 0v128.0M1071.84 0v128.0M1079.28 0v128.0M1086.73 0v128.0M1094.17 0v128.0M1101.61 0v128.0M1109.06 0v128.0M1116.50 0v128.0M1123.94 0v128.0M1131.38 0v128.0M1138.83 0v128.0M1146.27 0v128.0M1153.71 0v128.0M1161.16 0v128.0M1168.60 0v128.0M1176.04 0v128.0M1183.48 0v128.0M1190.93 0v128.0M1198.37 0v128.0M1205.81 0v128.0M1213.26 0v128.0M1220.70 0v128.0M1228.14 0v128.0M1235.59 0v128.0M1243.03 0v128.0M1250.47 0v128.0M1257.91 0v128.0M1265.36 0v128.0" stroke="#fff" stroke-opacity="0.09" stroke-width="0.9" fill="none"/>
<g stroke="#000" stroke-width="1.3">
<line x1="59.60" y1="14.3" x2="59.60" y2="905.8"/>
<line x1="126.59" y1="14.3" x2="126.59" y2="905.8"/>
<line x1="312.66" y1="14.3" x2="312.66" y2="905.8"/>
<line x1="439.19" y1="14.3" x2="439.19" y2="905.8"/>
<line x1="468.96" y1="14.3" x2="468.96" y2="905.8"/>
<line x1="491.29" y1="14.3" x2="491.29" y2="905.8"/>
<line x1="535.95" y1="14.3" x2="535.95" y2="905.8"/>
<line x1="655.04" y1="14.3" x2="655.04" y2="905.8"/>
<line x1="759.24" y1="14.3" x2="759.24" y2="905.8"/>
<line x1="945.31" y1="14.3" x2="945.31" y2="905.8"/>
<line x1="1012.30" y1="14.3" x2="1012.30" y2="905.8"/>
<line x1="1272.80" y1="14.3" x2="1272.80" y2="905.8"/>
</g>
<g font-family='"Liberation Sans", sans-serif' font-size="11.3" fill="#111" text-anchor="middle">
<text x="93.1" y="179.9" textLength="58.0" lengthAdjust="spacingAndGlyphs">Beer 1 – US</text>
<text x="219.6" y="179.9" textLength="59.0" lengthAdjust="spacingAndGlyphs">Beer 1 – UK</text>
<text x="375.9" y="179.9" textLength="82.4" lengthAdjust="spacingAndGlyphs">Beer 1 – Bel/Ger</text>
<text x="454.1" y="179.9" textLength="21.0" lengthAdjust="spacingAndGlyphs">B1O</text>
<text x="480.1" y="179.9" textLength="22.4" lengthAdjust="spacingAndGlyphs">B1W</text>
<text x="513.6" y="179.9" textLength="26.3" lengthAdjust="spacingAndGlyphs">Kveik</text>
<text x="595.5" y="179.9" textLength="29.8" lengthAdjust="spacingAndGlyphs">Mixed</text>
<text x="707.1" y="179.9" textLength="29.2" lengthAdjust="spacingAndGlyphs">Beer2</text>
<text x="852.3" y="179.9" textLength="25.0" lengthAdjust="spacingAndGlyphs">Wine</text>
<text x="978.8" y="179.9" textLength="21.2" lengthAdjust="spacingAndGlyphs">Asia</text>
<text x="1142.5" y="179.9" textLength="35.0" lengthAdjust="spacingAndGlyphs">Mosaic</text>
<text x="93.1" y="358.1" textLength="58.0" lengthAdjust="spacingAndGlyphs">Beer 1 – US</text>
<text x="219.6" y="358.1" textLength="59.0" lengthAdjust="spacingAndGlyphs">Beer 1 – UK</text>
<text x="375.9" y="358.1" textLength="82.4" lengthAdjust="spacingAndGlyphs">Beer 1 – Bel/Ger</text>
<text x="454.1" y="358.1" textLength="21.0" lengthAdjust="spacingAndGlyphs">B1O</text>
<text x="480.1" y="358.1" textLength="22.4" lengthAdjust="spacingAndGlyphs">B1W</text>
<text x="513.6" y="358.1" textLength="26.3" lengthAdjust="spacingAndGlyphs">Kveik</text>
<text x="595.5" y="358.1" textLength="29.8" lengthAdjust="spacingAndGlyphs">Mixed</text>
<text x="707.1" y="358.1" textLength="29.2" lengthAdjust="spacingAndGlyphs">Beer2</text>
<text x="852.3" y="358.1" textLength="25.0" lengthAdjust="spacingAndGlyphs">Wine</text>
<text x="978.8" y="358.1" textLength="21.2" lengthAdjust="spacingAndGlyphs">Asia</text>
<text x="1142.5" y="358.1" textLength="35.0" lengthAdjust="spacingAndGlyphs">Mosaic</text>
<text x="93.1" y="536.2" textLength="58.0" lengthAdjust="spacingAndGlyphs">Beer 1 – US</text>
<text x="219.6" y="536.2" textLength="59.0" lengthAdjust="spacingAndGlyphs">Beer 1 – UK</text>
<text x="375.9" y="536.2" textLength="82.4" lengthAdjust="spacingAndGlyphs">Beer 1 – Bel/Ger</text>
<text x="454.1" y="536.2" textLength="21.0" lengthAdjust="spacingAndGlyphs">B1O</text>
<text x="480.1" y="536.2" textLength="22.4" lengthAdjust="spacingAndGlyphs">B1W</text>
<text x="513.6" y="536.2" textLength="26.3" lengthAdjust="spacingAndGlyphs">Kveik</text>
<text x="595.5" y="536.2" textLength="29.8" lengthAdjust="spacingAndGlyphs">Mixed</text>
<text x="707.1" y="536.2" textLength="29.2" lengthAdjust="spacingAndGlyphs">Beer2</text>
<text x="852.3" y="536.2" textLength="25.0" lengthAdjust="spacingAndGlyphs">Wine</text>
<text x="978.8" y="536.2" textLength="21.2" lengthAdjust="spacingAndGlyphs">Asia</text>
<text x="1142.5" y="536.2" textLength="35.0" lengthAdjust="spacingAndGlyphs">Mosaic</text>
<text x="93.1" y="714.6" textLength="58.0" lengthAdjust="spacingAndGlyphs">Beer 1 – US</text>
<text x="219.6" y="714.6" textLength="59.0" lengthAdjust="spacingAndGlyphs">Beer 1 – UK</text>
<text x="375.9" y="714.6" textLength="82.4" lengthAdjust="spacingAndGlyphs">Beer 1 – Bel/Ger</text>
<text x="454.1" y="714.6" textLength="21.0" lengthAdjust="spacingAndGlyphs">B1O</text>
<text x="480.1" y="714.6" textLength="22.4" lengthAdjust="spacingAndGlyphs">B1W</text>
<text x="513.6" y="714.6" textLength="26.3" lengthAdjust="spacingAndGlyphs">Kveik</text>
<text x="595.5" y="714.6" textLength="29.8" lengthAdjust="spacingAndGlyphs">Mixed</text>
<text x="707.1" y="714.6" textLength="29.2" lengthAdjust="spacingAndGlyphs">Beer2</text>
<text x="852.3" y="714.6" textLength="25.0" lengthAdjust="spacingAndGlyphs">Wine</text>
<text x="978.8" y="714.6" textLength="21.2" lengthAdjust="spacingAndGlyphs">Asia</text>
<text x="1142.5" y="714.6" textLength="35.0" lengthAdjust="spacingAndGlyphs">Mosaic</text>
<text x="93.1" y="892.5" textLength="58.0" lengthAdjust="spacingAndGlyphs">Beer 1 – US</text>
<text x="219.6" y="892.5" textLength="59.0" lengthAdjust="spacingAndGlyphs">Beer 1 – UK</text>
<text x="375.9" y="892.5" textLength="82.4" lengthAdjust="spacingAndGlyphs">Beer 1 – Bel/Ger</text>
<text x="454.1" y="892.5" textLength="21.0" lengthAdjust="spacingAndGlyphs">B1O</text>
<text x="480.1" y="892.5" textLength="22.4" lengthAdjust="spacingAndGlyphs">B1W</text>
<text x="513.6" y="892.5" textLength="26.3" lengthAdjust="spacingAndGlyphs">Kveik</text>
<text x="595.5" y="892.5" textLength="29.8" lengthAdjust="spacingAndGlyphs">Mixed</text>
<text x="707.1" y="892.5" textLength="29.2" lengthAdjust="spacingAndGlyphs">Beer2</text>
<text x="852.3" y="892.5" textLength="25.0" lengthAdjust="spacingAndGlyphs">Wine</text>
<text x="978.8" y="892.5" textLength="21.2" lengthAdjust="spacingAndGlyphs">Asia</text>
<text x="1142.5" y="892.5" textLength="35.0" lengthAdjust="spacingAndGlyphs">Mosaic</text>
</g>
<g font-family='"Liberation Sans", sans-serif' font-size="37.6" fill="#111">
<text y="106.0" x="1302" font-style="italic">K</text>
<text x="1332.2" y="106.0">=</text>
<text y="106.0" x="1363.3">6</text>
<text y="284.2" x="1302" font-style="italic">K</text>
<text x="1332.2" y="284.2">=</text>
<text y="284.2" x="1363.3">7</text>
<text y="462.3" x="1302" font-style="italic">K</text>
<text x="1332.2" y="462.3">=</text>
<text y="462.3" x="1363.3">8</text>
<text y="640.7" x="1302" font-style="italic">K</text>
<text x="1332.2" y="640.7">=</text>
<text y="640.7" x="1363.3">9</text>
<text y="818.6" x="1302" font-style="italic">K</text>
<text x="1332.2" y="818.6">=</text>
<path d="M1376.6 818.6H1373.1V796.3L1368.3 800.1L1366.6 797.7L1373.7 791.7H1376.6Z"/>
<text y="818.6" x="1385.0">0</text>
</g>
<text x="6.5" y="29.8" font-family='"Liberation Sans", sans-serif' font-weight="bold" font-size="32.5" fill="#111">A</text>
<text x="7.3" y="1008.9" font-family='"Liberation Sans", sans-serif' font-weight="bold" font-size="32.5" fill="#111">B</text>
<g stroke="#222" stroke-width="0.95">
<circle cx="220.8" cy="1246.1" r="8.85" fill="#FF0000"/>
<circle cx="230.8" cy="1251.5" r="8.85" fill="#FF0000"/>
<circle cx="233.0" cy="1239.8" r="8.85" fill="#FF0000"/>
<circle cx="243.6" cy="1244.0" r="8.85" fill="#FF0000"/>
<circle cx="254.2" cy="1243.0" r="8.85" fill="#FF0000"/>
<circle cx="248.9" cy="1238.7" r="8.85" fill="#FF0000"/>
<circle cx="271.2" cy="1249.3" r="8.85" fill="#FF0000"/>
<circle cx="265.9" cy="1254.2" r="8.85" fill="#FF0000"/>
<circle cx="274.4" cy="1264.2" r="8.85" fill="#FF0000"/>
<circle cx="292.5" cy="1245.5" r="8.85" fill="#FF0000"/>
<circle cx="349.3" cy="1253.0" r="8.85" fill="#FF0000"/>
<circle cx="318.0" cy="1274.2" r="8.85" fill="#FF0000"/>
<circle cx="321.6" cy="1276.3" r="8.85" fill="#FF0000"/>
<circle cx="376.5" cy="1334.0" r="8.85" fill="#FF0000"/>
<circle cx="385.0" cy="1329.1" r="8.85" fill="#FF0000"/>
<circle cx="414.3" cy="1302.1" r="8.85" fill="#FFFFFF"/>
<circle cx="391.4" cy="1349.3" r="8.85" fill="#FFFFFF"/>
<circle cx="411.6" cy="1372.7" r="8.85" fill="#FFFFFF"/>
<circle cx="382.2" cy="1355.7" r="8.85" fill="#CAFF70"/>
<circle cx="362.7" cy="1376.9" r="8.85" fill="#CAFF70"/>
<circle cx="364.8" cy="1375.4" r="8.85" fill="#CAFF70"/>
<circle cx="377.5" cy="1376.9" r="8.85" fill="#CAFF70"/>
<circle cx="372.7" cy="1384.4" r="8.85" fill="#CAFF70"/>
<circle cx="370.7" cy="1379.5" r="8.85" fill="#CAFF70"/>
<circle cx="395.6" cy="1372.0" r="8.85" fill="#CAFF70"/>
<circle cx="397.7" cy="1372.7" r="8.85" fill="#CAFF70"/>
<circle cx="399.2" cy="1358.8" r="8.85" fill="#FFFFFF"/>
<circle cx="413.3" cy="1362.7" r="8.85" fill="#FFFFFF"/>
<circle cx="425.8" cy="1388.6" r="8.85" fill="#FFFFFF"/>
<circle cx="480.5" cy="1383.4" r="8.85" fill="#FFFFFF"/>
<circle cx="454.0" cy="1418.0" r="8.85" fill="#FFFFFF"/>
<circle cx="475.8" cy="1416.9" r="8.85" fill="#FFFFFF"/>
<circle cx="460.5" cy="1433.6" r="8.85" fill="#FFFFFF"/>
<circle cx="587.7" cy="1331.0" r="8.85" fill="#FFFFFF"/>
<circle cx="609.8" cy="1320.5" r="8.85" fill="#FFFFFF"/>
<circle cx="659.4" cy="1381.2" r="8.85" fill="#FFFFFF"/>
<circle cx="585.1" cy="1472.2" r="8.85" fill="#FFFFFF"/>
<circle cx="589.1" cy="1501.1" r="8.85" fill="#FFFFFF"/>
<circle cx="597.9" cy="1488.9" r="8.85" fill="#FFFFFF"/>
<circle cx="649.5" cy="1475.6" r="8.85" fill="#FFFFFF"/>
<circle cx="525.3" cy="1498.3" r="8.85" fill="#FFFFFF"/>
<circle cx="555.3" cy="1521.0" r="8.85" fill="#FFFFFF"/>
<circle cx="629.1" cy="1551.6" r="8.85" fill="#FFFFFF"/>
<circle cx="645.8" cy="1581.1" r="8.85" fill="#FFFFFF"/>
<circle cx="677.3" cy="1588.1" r="8.85" fill="#FFFFFF"/>
<circle cx="736.9" cy="1606.1" r="8.85" fill="#FFFFFF"/>
<circle cx="795.6" cy="1674.6" r="8.85" fill="#FFFFFF"/>
<circle cx="818.9" cy="1084.4" r="8.85" fill="#FFFFFF"/>
<circle cx="786.3" cy="1113.1" r="8.85" fill="#FFFFFF"/>
<circle cx="808.8" cy="1110.6" r="8.85" fill="#FFFFFF"/>
<circle cx="801.7" cy="1113.1" r="8.85" fill="#FFFFFF"/>
<circle cx="794.6" cy="1155.2" r="8.85" fill="#FFFFFF"/>
<circle cx="794.6" cy="1148.1" r="8.85" fill="#FFFFFF"/>
<circle cx="804.9" cy="1161.4" r="8.85" fill="#FFFFFF"/>
<circle cx="807.0" cy="1183.5" r="8.85" fill="#FFFFFF"/>
<circle cx="776.1" cy="1208.3" r="8.85" fill="#FFFFFF"/>
<circle cx="786.7" cy="1268.4" r="8.85" fill="#FFFFFF"/>
<circle cx="778.2" cy="1260.5" r="8.85" fill="#FFFFFF"/>
<circle cx="782.3" cy="1275.9" r="8.85" fill="#FFFFFF"/>
<circle cx="615.5" cy="1442.2" r="8.85" fill="#FFA500"/>
<circle cx="618.3" cy="1441.6" r="8.85" fill="#FFA500"/>
<circle cx="621.7" cy="1442.4" r="8.85" fill="#FFA500"/>
<circle cx="692.0" cy="1449.5" r="8.85" fill="#FFA500"/>
<circle cx="687.7" cy="1448.1" r="8.85" fill="#FFA500"/>
<circle cx="679.2" cy="1469.4" r="8.85" fill="#FFA500"/>
<circle cx="683.5" cy="1464.3" r="8.85" fill="#FFA500"/>
<circle cx="680.7" cy="1474.2" r="8.85" fill="#FFA500"/>
<circle cx="684.3" cy="1479.3" r="8.85" fill="#FFA500"/>
<circle cx="682.6" cy="1475.6" r="8.85" fill="#FFA500"/>
<circle cx="691.4" cy="1495.4" r="8.85" fill="#FFA500"/>
<circle cx="723.2" cy="1453.5" r="8.85" fill="#FFA500"/>
<circle cx="732.2" cy="1465.7" r="8.85" fill="#FFA500"/>
<circle cx="727.4" cy="1460.6" r="8.85" fill="#FFA500"/>
<circle cx="826.5" cy="981.0" r="8.85" fill="#00EE00"/>
<circle cx="830.4" cy="974.8" r="8.85" fill="#00EE00"/>
<circle cx="834.4" cy="979.2" r="8.85" fill="#00EE00"/>
<circle cx="831.8" cy="985.4" r="8.85" fill="#00EE00"/>
<circle cx="829.1" cy="994.2" r="8.85" fill="#00EE00"/>
<circle cx="830.0" cy="981.8" r="8.85" fill="#00EE00"/>
<circle cx="818.2" cy="1011.0" r="8.85" fill="#00EE00"/>
<circle cx="813.2" cy="1018.1" r="8.85" fill="#00EE00"/>
<circle cx="815.9" cy="1015.5" r="8.85" fill="#00EE00"/>
<circle cx="803.5" cy="1037.6" r="8.85" fill="#00EE00"/>
<circle cx="807.9" cy="1040.2" r="8.85" fill="#00EE00"/>
<circle cx="805.8" cy="1035.8" r="8.85" fill="#00EE00"/>
<circle cx="816.8" cy="1058.8" r="8.85" fill="#00EE00"/>
<circle cx="812.3" cy="1061.4" r="8.85" fill="#00EE00"/>
<circle cx="828.3" cy="1052.6" r="8.85" fill="#008B00"/>
<circle cx="827.5" cy="1049.0" r="8.85" fill="#008B00"/>
<circle cx="826.5" cy="1045.5" r="8.85" fill="#008B00"/>
<circle cx="830.0" cy="1159.6" r="8.85" fill="#7FFF00"/>
<circle cx="838.0" cy="1164.1" r="8.85" fill="#7FFF00"/>
<circle cx="835.3" cy="1166.7" r="8.85" fill="#7FFF00"/>
<circle cx="830.0" cy="1183.5" r="8.85" fill="#7FFF00"/>
<circle cx="805.3" cy="1180.0" r="8.85" fill="#7FFF00"/>
<circle cx="816.8" cy="1180.9" r="8.85" fill="#7FFF00"/>
<circle cx="813.2" cy="1178.2" r="8.85" fill="#7FFF00"/>
<circle cx="806.1" cy="1176.4" r="8.85" fill="#7FFF00"/>
<circle cx="810.6" cy="1173.8" r="8.85" fill="#7FFF00"/>
<circle cx="824.7" cy="1172.0" r="8.85" fill="#7FFF00"/>
<circle cx="824.7" cy="1168.5" r="8.85" fill="#7FFF00"/>
<circle cx="731.2" cy="1265.6" r="8.85" fill="#9ACD32"/>
<circle cx="732.4" cy="1264.0" r="8.85" fill="#9ACD32"/>
<circle cx="731.8" cy="1264.8" r="8.85" fill="#9ACD32"/>
<circle cx="986.4" cy="1404.2" r="8.85" fill="#ADD8E6"/>
<circle cx="1003.8" cy="1417.7" r="8.85" fill="#ADD8E6"/>
<circle cx="1017.3" cy="1476.1" r="8.85" fill="#ADD8E6"/>
<circle cx="1022.2" cy="1465.4" r="8.85" fill="#ADD8E6"/>
<circle cx="1037.7" cy="1466.7" r="8.85" fill="#ADD8E6"/>
<circle cx="1039.5" cy="1479.5" r="8.85" fill="#ADD8E6"/>
<circle cx="994.8" cy="1906.7" r="8.85" fill="#0000FF"/>
<circle cx="996.0" cy="1905.0" r="8.85" fill="#0000FF"/>
<circle cx="1003.3" cy="1938.5" r="8.85" fill="#0000FF"/>
<circle cx="1005.6" cy="1937.0" r="8.85" fill="#0000FF"/>
<circle cx="1004.8" cy="1933.4" r="8.85" fill="#0000FF"/>
</g>
<g font-family='"Liberation Sans", sans-serif' font-size="13.9" fill="#4D4D4D">
<text x="175.6" y="1009.6" text-anchor="end">0.1</text>
<text x="175.6" y="1299.8" text-anchor="end">0.0</text>
<text x="175.6" y="1590.1" text-anchor="end">-0.1</text>
<text x="175.6" y="1880.4" text-anchor="end">-0.2</text>
<text x="201.2" y="2002.4" text-anchor="middle">-0.15</text>
<text x="352.4" y="2002.4" text-anchor="middle">-0.10</text>
<text x="503.8" y="2002.4" text-anchor="middle">-0.05</text>
<text x="654.8" y="2002.4" text-anchor="middle">0.00</text>
<text x="806.3" y="2002.4" text-anchor="middle">0.05</text>
<text x="957.0" y="2002.4" text-anchor="middle">0.10</text>
</g>
<text x="571.2" y="2021.8" font-family='"Liberation Sans", sans-serif' font-size="20" fill="#000" textLength="118" lengthAdjust="spacingAndGlyphs">PC1 (11.4%)</text>
<text transform="translate(148.3,1511.4) rotate(-90)" font-family='"Liberation Sans", sans-serif' font-size="21.2" fill="#000" textLength="107" lengthAdjust="spacingAndGlyphs">PC2 (9.2%)</text>
<text x="1093" y="1347.1" font-family='"Liberation Sans", sans-serif' font-size="19.5" fill="#000" textLength="95.7" lengthAdjust="spacingAndGlyphs">Population</text>
<g font-family='"Liberation Sans", sans-serif' font-size="16" fill="#000">
<circle cx="1103.8" cy="1360.8" r="8.6" fill="#0000FF" stroke="#333" stroke-width="0.95"/>
<text transform="translate(1117.3,1367.6) scale(1.032,1)">Asia</text>
<circle cx="1103.8" cy="1384.4" r="8.6" fill="#7FFF00" stroke="#333" stroke-width="0.95"/>
<text transform="translate(1117.3,1391.2) scale(1.032,1)">Beer1-Bel-Ger</text>
<circle cx="1103.8" cy="1407.9" r="8.6" fill="#9ACD32" stroke="#333" stroke-width="0.95"/>
<text transform="translate(1117.3,1414.7) scale(1.032,1)">Beer1-Other</text>
<circle cx="1103.8" cy="1431.5" r="8.6" fill="#00EE00" stroke="#333" stroke-width="0.95"/>
<text transform="translate(1117.3,1438.3) scale(1.032,1)">Beer1-UK</text>
<circle cx="1103.8" cy="1455.0" r="8.6" fill="#008B00" stroke="#333" stroke-width="0.95"/>
<text transform="translate(1117.3,1461.8) scale(1.032,1)">Beer1-US</text>
<circle cx="1103.8" cy="1478.6" r="8.6" fill="#CAFF70" stroke="#333" stroke-width="0.95"/>
<text transform="translate(1117.3,1485.4) scale(1.032,1)">Beer2</text>
<circle cx="1103.8" cy="1502.1" r="8.6" fill="#ADD8E6" stroke="#333" stroke-width="0.95"/>
<text transform="translate(1117.3,1508.9) scale(1.032,1)">Kveik</text>
<circle cx="1103.8" cy="1525.7" r="8.6" fill="#FFA500" stroke="#333" stroke-width="0.95"/>
<text transform="translate(1117.3,1532.5) scale(1.032,1)">Mixed</text>
<circle cx="1103.8" cy="1549.2" r="8.6" fill="#FFFFFF" stroke="#333" stroke-width="0.95"/>
<text transform="translate(1117.3,1556.0) scale(1.032,1)">Mosaic</text>
<circle cx="1103.8" cy="1572.8" r="8.6" fill="#FF0000" stroke="#333" stroke-width="0.95"/>
<text transform="translate(1117.3,1579.6) scale(1.032,1)">Wine</text>
</g>
</svg>
</body></html>
